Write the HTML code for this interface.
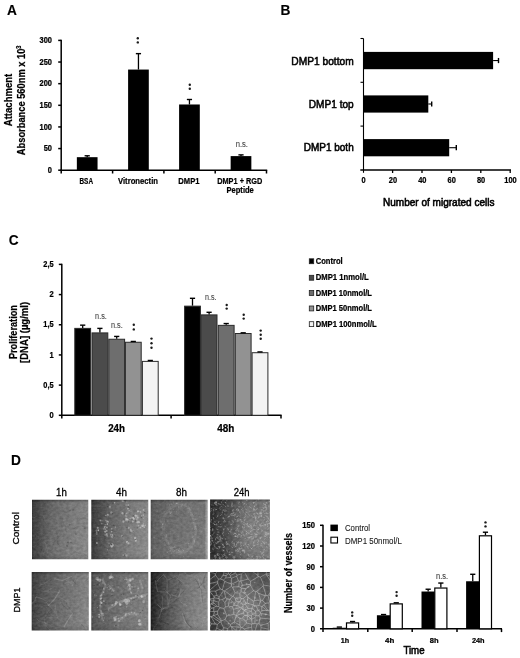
<!DOCTYPE html><html><head><meta charset="utf-8"><style>html,body{margin:0;padding:0;background:#fff;}svg{display:block;filter:blur(0.4px);}</style></head><body>
<svg width="520" height="658" viewBox="0 0 520 658" font-family='"Liberation Sans", sans-serif'>
<rect width="520" height="658" fill="#fff"/>
<text x="7.0" y="14.8" font-size="14.8" font-weight="bold" fill="#000" stroke="#000" stroke-width="0.12" textLength="9.9" lengthAdjust="spacingAndGlyphs">A</text>
<text x="280.4" y="14.8" font-size="14.8" font-weight="bold" fill="#000" stroke="#000" stroke-width="0.12" textLength="9.9" lengthAdjust="spacingAndGlyphs">B</text>
<text x="8.7" y="245.1" font-size="14.8" font-weight="bold" fill="#000" stroke="#000" stroke-width="0.12" textLength="9.9" lengthAdjust="spacingAndGlyphs">C</text>
<text x="11.0" y="465.4" font-size="14.8" font-weight="bold" fill="#000" stroke="#000" stroke-width="0.12" textLength="9.9" lengthAdjust="spacingAndGlyphs">D</text>
<line x1="61.20" y1="39.80" x2="61.20" y2="173.40" stroke="#000" stroke-width="1.5"/>
<line x1="60.45" y1="170.20" x2="267.20" y2="170.20" stroke="#000" stroke-width="1.5"/>
<line x1="58.20" y1="40.40" x2="61.20" y2="40.40" stroke="#000" stroke-width="1.5"/>
<text x="39.55" y="43.05" font-size="8.29" font-weight="bold" fill="#000" stroke="#000" stroke-width="0.22" textLength="12.45" lengthAdjust="spacingAndGlyphs">300</text>
<line x1="58.20" y1="62.03" x2="61.20" y2="62.03" stroke="#000" stroke-width="1.5"/>
<text x="39.55" y="64.68" font-size="8.29" font-weight="bold" fill="#000" stroke="#000" stroke-width="0.22" textLength="12.45" lengthAdjust="spacingAndGlyphs">250</text>
<line x1="58.20" y1="83.67" x2="61.20" y2="83.67" stroke="#000" stroke-width="1.5"/>
<text x="39.55" y="86.32" font-size="8.29" font-weight="bold" fill="#000" stroke="#000" stroke-width="0.22" textLength="12.45" lengthAdjust="spacingAndGlyphs">200</text>
<line x1="58.20" y1="105.30" x2="61.20" y2="105.30" stroke="#000" stroke-width="1.5"/>
<text x="39.55" y="107.95" font-size="8.29" font-weight="bold" fill="#000" stroke="#000" stroke-width="0.22" textLength="12.45" lengthAdjust="spacingAndGlyphs">150</text>
<line x1="58.20" y1="126.93" x2="61.20" y2="126.93" stroke="#000" stroke-width="1.5"/>
<text x="39.55" y="129.58" font-size="8.29" font-weight="bold" fill="#000" stroke="#000" stroke-width="0.22" textLength="12.45" lengthAdjust="spacingAndGlyphs">100</text>
<line x1="58.20" y1="148.57" x2="61.20" y2="148.57" stroke="#000" stroke-width="1.5"/>
<text x="43.70" y="151.22" font-size="8.29" font-weight="bold" fill="#000" stroke="#000" stroke-width="0.22" textLength="8.30" lengthAdjust="spacingAndGlyphs">50</text>
<line x1="58.20" y1="170.20" x2="61.20" y2="170.20" stroke="#000" stroke-width="1.5"/>
<text x="47.85" y="172.85" font-size="8.29" font-weight="bold" fill="#000" stroke="#000" stroke-width="0.22" textLength="4.15" lengthAdjust="spacingAndGlyphs">0</text>
<line x1="112.60" y1="170.20" x2="112.60" y2="173.50" stroke="#000" stroke-width="1.5"/>
<line x1="163.90" y1="170.20" x2="163.90" y2="173.50" stroke="#000" stroke-width="1.5"/>
<line x1="215.20" y1="170.20" x2="215.20" y2="173.50" stroke="#000" stroke-width="1.5"/>
<line x1="266.50" y1="170.20" x2="266.50" y2="173.50" stroke="#000" stroke-width="1.5"/>
<rect x="76.85" y="157.18" width="20.70" height="13.02" fill="#000"/>
<line x1="87.20" y1="155.79" x2="87.20" y2="157.18" stroke="#000" stroke-width="1.3"/>
<line x1="84.60" y1="155.79" x2="89.80" y2="155.79" stroke="#000" stroke-width="1.4"/>
<rect x="128.10" y="69.56" width="20.70" height="100.64" fill="#000"/>
<line x1="138.45" y1="53.64" x2="138.45" y2="69.56" stroke="#000" stroke-width="1.3"/>
<line x1="135.85" y1="53.64" x2="141.05" y2="53.64" stroke="#000" stroke-width="1.4"/>
<rect x="179.10" y="104.48" width="20.70" height="65.72" fill="#000"/>
<line x1="189.45" y1="99.50" x2="189.45" y2="104.48" stroke="#000" stroke-width="1.3"/>
<line x1="186.85" y1="99.50" x2="192.05" y2="99.50" stroke="#000" stroke-width="1.4"/>
<rect x="230.65" y="156.10" width="20.70" height="14.10" fill="#000"/>
<line x1="241.00" y1="154.88" x2="241.00" y2="156.10" stroke="#000" stroke-width="1.3"/>
<line x1="238.40" y1="154.88" x2="243.60" y2="154.88" stroke="#000" stroke-width="1.4"/>
<circle cx="137.80" cy="38.20" r="1.2" fill="#1a1a1a"/>
<circle cx="137.80" cy="42.40" r="1.2" fill="#1a1a1a"/>
<circle cx="189.80" cy="84.70" r="1.2" fill="#1a1a1a"/>
<circle cx="189.80" cy="88.70" r="1.2" fill="#1a1a1a"/>
<text x="235.70" y="147.20" font-size="8.40" fill="#4a4a4a" stroke="#4a4a4a" stroke-width="0.12" textLength="12.30" lengthAdjust="spacingAndGlyphs">n.s.</text>
<text x="79.50" y="184.30" font-size="9.00" font-weight="bold" fill="#000" stroke="#000" stroke-width="0.22" textLength="13.50" lengthAdjust="spacingAndGlyphs">BSA</text>
<text x="118.00" y="184.30" font-size="9.00" font-weight="bold" fill="#000" stroke="#000" stroke-width="0.22" textLength="40.00" lengthAdjust="spacingAndGlyphs">Vitronectin</text>
<text x="178.30" y="184.30" font-size="9.00" font-weight="bold" fill="#000" stroke="#000" stroke-width="0.22" textLength="21.20" lengthAdjust="spacingAndGlyphs">DMP1</text>
<text x="217.20" y="184.30" font-size="9.20" font-weight="bold" fill="#000" stroke="#000" stroke-width="0.22" textLength="45.10" lengthAdjust="spacingAndGlyphs">DMP1 + RGD</text>
<text x="226.50" y="193.30" font-size="9.20" font-weight="bold" fill="#000" stroke="#000" stroke-width="0.22" textLength="27.30" lengthAdjust="spacingAndGlyphs">Peptide</text>
<text transform="translate(12.40,100.00) rotate(-90)" x="-26.20" y="0" font-size="10.50" font-weight="bold" fill="#000" stroke="#000" stroke-width="0.22" textLength="52.40" lengthAdjust="spacingAndGlyphs">Attachment</text>
<text transform="translate(24.70,100.30) rotate(-90)" x="-54.85" y="0" font-size="10.50" font-weight="bold" fill="#000" stroke="#000" stroke-width="0.22" textLength="109.70" lengthAdjust="spacingAndGlyphs">Absorbance 560nm x 10<tspan font-size="6.5" dy="-3.5">3</tspan></text>
<line x1="363.50" y1="38.50" x2="363.50" y2="172.80" stroke="#000" stroke-width="1.1"/>
<line x1="360.30" y1="170.00" x2="511.00" y2="170.00" stroke="#000" stroke-width="1.5"/>
<line x1="360.50" y1="38.50" x2="363.50" y2="38.50" stroke="#000" stroke-width="1.1"/>
<line x1="360.50" y1="82.30" x2="363.50" y2="82.30" stroke="#000" stroke-width="1.1"/>
<line x1="360.50" y1="126.10" x2="363.50" y2="126.10" stroke="#000" stroke-width="1.1"/>
<text x="361.43" y="183.40" font-size="8.13" font-weight="bold" fill="#000" stroke="#000" stroke-width="0.22" textLength="4.15" lengthAdjust="spacingAndGlyphs">0</text>
<line x1="392.60" y1="170.00" x2="392.60" y2="173.00" stroke="#000" stroke-width="1.3"/>
<text x="388.75" y="183.40" font-size="8.13" font-weight="bold" fill="#000" stroke="#000" stroke-width="0.22" textLength="8.30" lengthAdjust="spacingAndGlyphs">20</text>
<line x1="422.00" y1="170.00" x2="422.00" y2="173.00" stroke="#000" stroke-width="1.3"/>
<text x="418.15" y="183.40" font-size="8.13" font-weight="bold" fill="#000" stroke="#000" stroke-width="0.22" textLength="8.30" lengthAdjust="spacingAndGlyphs">40</text>
<line x1="451.40" y1="170.00" x2="451.40" y2="173.00" stroke="#000" stroke-width="1.3"/>
<text x="447.55" y="183.40" font-size="8.13" font-weight="bold" fill="#000" stroke="#000" stroke-width="0.22" textLength="8.30" lengthAdjust="spacingAndGlyphs">60</text>
<line x1="480.80" y1="170.00" x2="480.80" y2="173.00" stroke="#000" stroke-width="1.3"/>
<text x="476.95" y="183.40" font-size="8.13" font-weight="bold" fill="#000" stroke="#000" stroke-width="0.22" textLength="8.30" lengthAdjust="spacingAndGlyphs">80</text>
<line x1="510.20" y1="170.00" x2="510.20" y2="173.00" stroke="#000" stroke-width="1.3"/>
<text x="504.27" y="183.40" font-size="8.13" font-weight="bold" fill="#000" stroke="#000" stroke-width="0.22" textLength="12.45" lengthAdjust="spacingAndGlyphs">100</text>
<rect x="363.50" y="51.90" width="129.60" height="17.30" fill="#000"/>
<line x1="493.10" y1="60.55" x2="498.50" y2="60.55" stroke="#000" stroke-width="1.1"/>
<line x1="498.50" y1="57.95" x2="498.50" y2="63.15" stroke="#000" stroke-width="1.4"/>
<rect x="363.50" y="95.40" width="64.80" height="17.20" fill="#000"/>
<line x1="428.30" y1="104.00" x2="431.70" y2="104.00" stroke="#000" stroke-width="1.1"/>
<line x1="431.70" y1="101.40" x2="431.70" y2="106.60" stroke="#000" stroke-width="1.4"/>
<rect x="363.50" y="139.10" width="85.70" height="17.20" fill="#000"/>
<line x1="449.20" y1="147.70" x2="456.30" y2="147.70" stroke="#000" stroke-width="1.1"/>
<line x1="456.30" y1="145.10" x2="456.30" y2="150.30" stroke="#000" stroke-width="1.4"/>
<text x="291.30" y="64.80" font-size="11.73" fill="#000" stroke="#000" stroke-width="0.58" textLength="62.40" lengthAdjust="spacingAndGlyphs">DMP1 bottom</text>
<text x="308.80" y="108.20" font-size="11.73" fill="#000" stroke="#000" stroke-width="0.58" textLength="44.90" lengthAdjust="spacingAndGlyphs">DMP1 top</text>
<text x="303.80" y="151.00" font-size="10.89" fill="#000" stroke="#000" stroke-width="0.58" textLength="49.90" lengthAdjust="spacingAndGlyphs">DMP1 both</text>
<text x="383.00" y="205.80" font-size="10.39" fill="#000" stroke="#000" stroke-width="0.58" textLength="111.50" lengthAdjust="spacingAndGlyphs">Number of migrated cells</text>
<line x1="61.80" y1="263.80" x2="61.80" y2="418.50" stroke="#000" stroke-width="1.5"/>
<line x1="61.05" y1="415.30" x2="281.60" y2="415.30" stroke="#000" stroke-width="1.5"/>
<line x1="58.80" y1="264.40" x2="61.80" y2="264.40" stroke="#000" stroke-width="1.5"/>
<text x="43.30" y="267.10" font-size="8.45" font-weight="bold" fill="#000" stroke="#000" stroke-width="0.22" textLength="10.30" lengthAdjust="spacingAndGlyphs">2,5</text>
<line x1="58.80" y1="294.58" x2="61.80" y2="294.58" stroke="#000" stroke-width="1.5"/>
<text x="49.40" y="297.28" font-size="8.45" font-weight="bold" fill="#000" stroke="#000" stroke-width="0.22" textLength="4.20" lengthAdjust="spacingAndGlyphs">2</text>
<line x1="58.80" y1="324.76" x2="61.80" y2="324.76" stroke="#000" stroke-width="1.5"/>
<text x="43.30" y="327.46" font-size="8.45" font-weight="bold" fill="#000" stroke="#000" stroke-width="0.22" textLength="10.30" lengthAdjust="spacingAndGlyphs">1,5</text>
<line x1="58.80" y1="354.94" x2="61.80" y2="354.94" stroke="#000" stroke-width="1.5"/>
<text x="49.40" y="357.64" font-size="8.45" font-weight="bold" fill="#000" stroke="#000" stroke-width="0.22" textLength="4.20" lengthAdjust="spacingAndGlyphs">1</text>
<line x1="58.80" y1="385.12" x2="61.80" y2="385.12" stroke="#000" stroke-width="1.5"/>
<text x="43.30" y="387.82" font-size="8.45" font-weight="bold" fill="#000" stroke="#000" stroke-width="0.22" textLength="10.30" lengthAdjust="spacingAndGlyphs">0,5</text>
<line x1="58.80" y1="415.30" x2="61.80" y2="415.30" stroke="#000" stroke-width="1.5"/>
<text x="49.40" y="418.00" font-size="8.45" font-weight="bold" fill="#000" stroke="#000" stroke-width="0.22" textLength="4.20" lengthAdjust="spacingAndGlyphs">0</text>
<line x1="171.10" y1="415.30" x2="171.10" y2="418.60" stroke="#000" stroke-width="1.5"/>
<line x1="281.00" y1="415.30" x2="281.00" y2="418.60" stroke="#000" stroke-width="1.5"/>
<rect x="74.80" y="328.38" width="15.80" height="86.92" fill="#000" stroke="#2a2a2a" stroke-width="1"/>
<rect x="92.00" y="332.91" width="15.80" height="82.39" fill="#4b4b4b" stroke="#2a2a2a" stroke-width="1"/>
<rect x="108.80" y="339.24" width="15.80" height="76.06" fill="#6e6e6e" stroke="#2a2a2a" stroke-width="1"/>
<rect x="125.40" y="342.26" width="15.80" height="73.04" fill="#929292" stroke="#2a2a2a" stroke-width="1"/>
<rect x="142.40" y="361.38" width="15.80" height="53.92" fill="#f3f3f3" stroke="#2a2a2a" stroke-width="1"/>
<line x1="82.70" y1="325.16" x2="82.70" y2="327.88" stroke="#000" stroke-width="1.3"/>
<line x1="80.10" y1="325.16" x2="85.30" y2="325.16" stroke="#000" stroke-width="1.4"/>
<line x1="99.90" y1="328.38" x2="99.90" y2="332.41" stroke="#000" stroke-width="1.3"/>
<line x1="97.30" y1="328.38" x2="102.50" y2="328.38" stroke="#000" stroke-width="1.4"/>
<line x1="116.70" y1="336.43" x2="116.70" y2="338.74" stroke="#000" stroke-width="1.3"/>
<line x1="114.10" y1="336.43" x2="119.30" y2="336.43" stroke="#000" stroke-width="1.4"/>
<line x1="130.70" y1="341.46" x2="135.90" y2="341.46" stroke="#000" stroke-width="1.4"/>
<line x1="147.70" y1="360.47" x2="152.90" y2="360.47" stroke="#000" stroke-width="1.4"/>
<rect x="184.60" y="306.15" width="15.80" height="109.15" fill="#000" stroke="#2a2a2a" stroke-width="1"/>
<rect x="201.20" y="314.90" width="15.80" height="100.40" fill="#4b4b4b" stroke="#2a2a2a" stroke-width="1"/>
<rect x="218.30" y="325.36" width="15.80" height="89.94" fill="#6e6e6e" stroke="#2a2a2a" stroke-width="1"/>
<rect x="235.30" y="333.51" width="15.80" height="81.79" fill="#929292" stroke="#2a2a2a" stroke-width="1"/>
<rect x="252.10" y="352.72" width="15.80" height="62.58" fill="#f3f3f3" stroke="#2a2a2a" stroke-width="1"/>
<line x1="192.50" y1="298.30" x2="192.50" y2="305.65" stroke="#000" stroke-width="1.3"/>
<line x1="189.90" y1="298.30" x2="195.10" y2="298.30" stroke="#000" stroke-width="1.4"/>
<line x1="209.10" y1="312.29" x2="209.10" y2="314.40" stroke="#000" stroke-width="1.3"/>
<line x1="206.50" y1="312.29" x2="211.70" y2="312.29" stroke="#000" stroke-width="1.4"/>
<line x1="226.20" y1="323.55" x2="226.20" y2="324.86" stroke="#000" stroke-width="1.3"/>
<line x1="223.60" y1="323.55" x2="228.80" y2="323.55" stroke="#000" stroke-width="1.4"/>
<line x1="240.60" y1="332.81" x2="245.80" y2="332.81" stroke="#000" stroke-width="1.4"/>
<line x1="257.40" y1="351.92" x2="262.60" y2="351.92" stroke="#000" stroke-width="1.4"/>
<text x="95.10" y="319.20" font-size="8.40" fill="#4a4a4a" stroke="#4a4a4a" stroke-width="0.12" textLength="11.70" lengthAdjust="spacingAndGlyphs">n.s.</text>
<text x="111.00" y="328.00" font-size="8.40" fill="#4a4a4a" stroke="#4a4a4a" stroke-width="0.12" textLength="11.80" lengthAdjust="spacingAndGlyphs">n.s.</text>
<text x="205.00" y="300.20" font-size="8.40" fill="#4a4a4a" stroke="#4a4a4a" stroke-width="0.12" textLength="11.50" lengthAdjust="spacingAndGlyphs">n.s.</text>
<circle cx="133.80" cy="324.80" r="1.2" fill="#1a1a1a"/>
<circle cx="133.80" cy="329.40" r="1.2" fill="#1a1a1a"/>
<circle cx="151.50" cy="338.60" r="1.2" fill="#1a1a1a"/>
<circle cx="151.50" cy="343.20" r="1.2" fill="#1a1a1a"/>
<circle cx="151.50" cy="347.80" r="1.2" fill="#1a1a1a"/>
<circle cx="226.70" cy="305.00" r="1.2" fill="#1a1a1a"/>
<circle cx="226.70" cy="308.60" r="1.2" fill="#1a1a1a"/>
<circle cx="243.70" cy="314.80" r="1.2" fill="#1a1a1a"/>
<circle cx="243.70" cy="318.60" r="1.2" fill="#1a1a1a"/>
<circle cx="260.70" cy="330.60" r="1.2" fill="#1a1a1a"/>
<circle cx="260.70" cy="334.70" r="1.2" fill="#1a1a1a"/>
<circle cx="260.70" cy="338.80" r="1.2" fill="#1a1a1a"/>
<text x="108.20" y="432.00" font-size="10.32" font-weight="bold" fill="#000" stroke="#000" stroke-width="0.22" textLength="16.80" lengthAdjust="spacingAndGlyphs">24h</text>
<text x="217.20" y="432.00" font-size="10.32" font-weight="bold" fill="#000" stroke="#000" stroke-width="0.22" textLength="17.10" lengthAdjust="spacingAndGlyphs">48h</text>
<text transform="translate(17.10,332.10) rotate(-90)" x="-27.00" y="0" font-size="10.50" font-weight="bold" fill="#000" stroke="#000" stroke-width="0.22" textLength="54.00" lengthAdjust="spacingAndGlyphs">Proliferation</text>
<text transform="translate(28.00,332.40) rotate(-90)" x="-30.55" y="0" font-size="10.50" font-weight="bold" fill="#000" stroke="#000" stroke-width="0.22" textLength="61.10" lengthAdjust="spacingAndGlyphs">[DNA] (µg/ml)</text>
<rect x="309.30" y="258.80" width="4.40" height="4.90" fill="#000" stroke="#222" stroke-width="0.8"/>
<text x="315.70" y="263.90" font-size="8.76" font-weight="bold" fill="#000" stroke="#000" stroke-width="0.22" textLength="27.00" lengthAdjust="spacingAndGlyphs">Control</text>
<rect x="309.30" y="275.30" width="4.40" height="4.90" fill="#4b4b4b" stroke="#222" stroke-width="0.8"/>
<text x="315.70" y="280.40" font-size="8.76" font-weight="bold" fill="#000" stroke="#000" stroke-width="0.22" textLength="53.10" lengthAdjust="spacingAndGlyphs">DMP1 1nmol/L</text>
<rect x="309.30" y="290.50" width="4.40" height="4.90" fill="#6e6e6e" stroke="#222" stroke-width="0.8"/>
<text x="315.70" y="295.60" font-size="8.76" font-weight="bold" fill="#000" stroke="#000" stroke-width="0.22" textLength="56.30" lengthAdjust="spacingAndGlyphs">DMP1 10nmol/L</text>
<rect x="309.30" y="306.00" width="4.40" height="4.90" fill="#929292" stroke="#222" stroke-width="0.8"/>
<text x="315.70" y="311.10" font-size="8.76" font-weight="bold" fill="#000" stroke="#000" stroke-width="0.22" textLength="56.30" lengthAdjust="spacingAndGlyphs">DMP1 50nmol/L</text>
<rect x="309.30" y="321.70" width="4.40" height="4.90" fill="#f3f3f3" stroke="#222" stroke-width="0.8"/>
<text x="315.70" y="326.80" font-size="8.76" font-weight="bold" fill="#000" stroke="#000" stroke-width="0.22" textLength="61.10" lengthAdjust="spacingAndGlyphs">DMP1 100nmol/L</text>
<line x1="323.00" y1="524.80" x2="323.00" y2="632.00" stroke="#000" stroke-width="1.5"/>
<line x1="320.00" y1="628.80" x2="502.00" y2="628.80" stroke="#000" stroke-width="1.5"/>
<line x1="320.00" y1="525.30" x2="323.00" y2="525.30" stroke="#000" stroke-width="1.5"/>
<line x1="320.00" y1="546.00" x2="323.00" y2="546.00" stroke="#000" stroke-width="1.5"/>
<line x1="320.00" y1="566.70" x2="323.00" y2="566.70" stroke="#000" stroke-width="1.5"/>
<line x1="320.00" y1="587.40" x2="323.00" y2="587.40" stroke="#000" stroke-width="1.5"/>
<line x1="320.00" y1="608.10" x2="323.00" y2="608.10" stroke="#000" stroke-width="1.5"/>
<text x="302.15" y="528.10" font-size="8.76" font-weight="bold" fill="#000" stroke="#000" stroke-width="0.22" textLength="12.75" lengthAdjust="spacingAndGlyphs">150</text>
<text x="302.15" y="548.80" font-size="8.76" font-weight="bold" fill="#000" stroke="#000" stroke-width="0.22" textLength="12.75" lengthAdjust="spacingAndGlyphs">120</text>
<text x="306.40" y="569.50" font-size="8.76" font-weight="bold" fill="#000" stroke="#000" stroke-width="0.22" textLength="8.50" lengthAdjust="spacingAndGlyphs">90</text>
<text x="306.40" y="590.20" font-size="8.76" font-weight="bold" fill="#000" stroke="#000" stroke-width="0.22" textLength="8.50" lengthAdjust="spacingAndGlyphs">60</text>
<text x="306.40" y="610.90" font-size="8.76" font-weight="bold" fill="#000" stroke="#000" stroke-width="0.22" textLength="8.50" lengthAdjust="spacingAndGlyphs">30</text>
<text x="310.65" y="631.60" font-size="8.76" font-weight="bold" fill="#000" stroke="#000" stroke-width="0.22" textLength="4.25" lengthAdjust="spacingAndGlyphs">0</text>
<line x1="367.80" y1="628.80" x2="367.80" y2="632.10" stroke="#000" stroke-width="1.5"/>
<line x1="412.20" y1="628.80" x2="412.20" y2="632.10" stroke="#000" stroke-width="1.5"/>
<line x1="457.00" y1="628.80" x2="457.00" y2="632.10" stroke="#000" stroke-width="1.5"/>
<line x1="501.50" y1="628.80" x2="501.50" y2="632.10" stroke="#000" stroke-width="1.5"/>
<rect x="332.70" y="627.76" width="13.30" height="1.03" fill="#000"/>
<rect x="346.50" y="622.92" width="12.10" height="5.88" fill="#fff" stroke="#000" stroke-width="1.2"/>
<line x1="336.75" y1="627.07" x2="341.95" y2="627.07" stroke="#000" stroke-width="1.4"/>
<line x1="352.55" y1="621.52" x2="352.55" y2="622.32" stroke="#000" stroke-width="1.3"/>
<line x1="349.95" y1="621.52" x2="355.15" y2="621.52" stroke="#000" stroke-width="1.4"/>
<rect x="376.90" y="615.25" width="13.30" height="13.55" fill="#000"/>
<rect x="390.20" y="603.89" width="12.10" height="24.91" fill="#fff" stroke="#000" stroke-width="1.2"/>
<line x1="383.55" y1="614.55" x2="383.55" y2="615.25" stroke="#000" stroke-width="1.3"/>
<line x1="380.95" y1="614.55" x2="386.15" y2="614.55" stroke="#000" stroke-width="1.4"/>
<line x1="393.65" y1="602.79" x2="398.85" y2="602.79" stroke="#000" stroke-width="1.4"/>
<rect x="421.50" y="591.52" width="13.30" height="37.28" fill="#000"/>
<rect x="434.80" y="588.04" width="12.10" height="40.76" fill="#fff" stroke="#000" stroke-width="1.2"/>
<line x1="428.15" y1="589.23" x2="428.15" y2="591.52" stroke="#000" stroke-width="1.3"/>
<line x1="425.55" y1="589.23" x2="430.75" y2="589.23" stroke="#000" stroke-width="1.4"/>
<line x1="440.85" y1="583.05" x2="440.85" y2="587.44" stroke="#000" stroke-width="1.3"/>
<line x1="438.25" y1="583.05" x2="443.45" y2="583.05" stroke="#000" stroke-width="1.4"/>
<rect x="466.10" y="581.26" width="13.30" height="47.54" fill="#000"/>
<rect x="479.40" y="535.81" width="12.10" height="92.99" fill="#fff" stroke="#000" stroke-width="1.2"/>
<line x1="472.75" y1="574.28" x2="472.75" y2="581.26" stroke="#000" stroke-width="1.3"/>
<line x1="470.15" y1="574.28" x2="475.35" y2="574.28" stroke="#000" stroke-width="1.4"/>
<line x1="485.45" y1="532.22" x2="485.45" y2="535.21" stroke="#000" stroke-width="1.3"/>
<line x1="482.85" y1="532.22" x2="488.05" y2="532.22" stroke="#000" stroke-width="1.4"/>
<circle cx="352.20" cy="612.40" r="1.2" fill="#1a1a1a"/>
<circle cx="352.20" cy="615.80" r="1.2" fill="#1a1a1a"/>
<circle cx="396.60" cy="592.10" r="1.2" fill="#1a1a1a"/>
<circle cx="396.60" cy="595.70" r="1.2" fill="#1a1a1a"/>
<circle cx="485.50" cy="522.40" r="1.2" fill="#1a1a1a"/>
<circle cx="485.50" cy="526.40" r="1.2" fill="#1a1a1a"/>
<text x="436.00" y="578.60" font-size="8.40" fill="#444" stroke="#444" stroke-width="0.12" textLength="12.00" lengthAdjust="spacingAndGlyphs">n.s.</text>
<text x="340.80" y="642.60" font-size="7.82" font-weight="bold" fill="#000" stroke="#000" stroke-width="0.22" textLength="8.40" lengthAdjust="spacingAndGlyphs">1h</text>
<text x="385.00" y="642.60" font-size="7.82" font-weight="bold" fill="#000" stroke="#000" stroke-width="0.22" textLength="9.20" lengthAdjust="spacingAndGlyphs">4h</text>
<text x="429.70" y="642.60" font-size="7.82" font-weight="bold" fill="#000" stroke="#000" stroke-width="0.22" textLength="8.80" lengthAdjust="spacingAndGlyphs">8h</text>
<text x="471.90" y="642.60" font-size="7.82" font-weight="bold" fill="#000" stroke="#000" stroke-width="0.22" textLength="12.70" lengthAdjust="spacingAndGlyphs">24h</text>
<text x="403.40" y="653.80" font-size="11.06" fill="#000" stroke="#000" stroke-width="0.58" textLength="21.20" lengthAdjust="spacingAndGlyphs">Time</text>
<text transform="translate(292.00,573.00) rotate(-90)" x="-39.90" y="0" font-size="10.00" font-weight="bold" fill="#000" stroke="#000" stroke-width="0.22" textLength="79.80" lengthAdjust="spacingAndGlyphs">Number of vessels</text>
<rect x="330.40" y="524.60" width="7.50" height="6.50" fill="#000"/>
<rect x="330.90" y="537.20" width="6.60" height="5.80" fill="#fff" stroke="#000" stroke-width="1.1"/>
<text x="345.00" y="531.30" font-size="9.22" fill="#1a1a1a" stroke="#1a1a1a" stroke-width="0.1" textLength="25.00" lengthAdjust="spacingAndGlyphs">Control</text>
<text x="345.00" y="544.30" font-size="9.22" fill="#1a1a1a" stroke="#1a1a1a" stroke-width="0.1" textLength="56.90" lengthAdjust="spacingAndGlyphs">DMP1 50nmol/L</text>
<text x="56.00" y="496.20" font-size="10.73" fill="#000" stroke="#000" stroke-width="0.3" textLength="10.80" lengthAdjust="spacingAndGlyphs">1h</text>
<text x="116.00" y="496.20" font-size="10.73" fill="#000" stroke="#000" stroke-width="0.3" textLength="11.00" lengthAdjust="spacingAndGlyphs">4h</text>
<text x="176.00" y="496.20" font-size="10.73" fill="#000" stroke="#000" stroke-width="0.3" textLength="11.00" lengthAdjust="spacingAndGlyphs">8h</text>
<text x="233.80" y="496.20" font-size="10.73" fill="#000" stroke="#000" stroke-width="0.3" textLength="15.80" lengthAdjust="spacingAndGlyphs">24h</text>
<text transform="translate(19.10,528.30) rotate(-90)" x="-16.30" y="0" font-size="9.60" fill="#000" stroke="#000" stroke-width="0.3" textLength="32.60" lengthAdjust="spacingAndGlyphs">Control</text>
<text transform="translate(19.60,600.00) rotate(-90)" x="-12.40" y="0" font-size="9.60" fill="#000" stroke="#000" stroke-width="0.3" textLength="24.80" lengthAdjust="spacingAndGlyphs">DMP1</text>
<defs>
<filter id="tex" x="0" y="0" width="100%" height="100%" color-interpolation-filters="sRGB"><feTurbulence type="fractalNoise" baseFrequency="0.3 0.4" numOctaves="2" seed="4" result="n"/><feColorMatrix in="n" type="matrix" values="1 0 0 0 0  1 0 0 0 0  1 0 0 0 0  0 0 0 0 1" result="g"/><feComposite in="SourceGraphic" in2="g" operator="arithmetic" k1="0" k2="1" k3="0.16" k4="-0.08"/></filter>
<filter id="bl" x="-5%" y="-5%" width="110%" height="110%"><feGaussianBlur stdDeviation="0.35"/></filter>
<filter id="bl2" x="-5%" y="-5%" width="110%" height="110%"><feGaussianBlur stdDeviation="0.6"/></filter>
<linearGradient id="g0" x1="0" y1="0" x2="1" y2="0"><stop offset="0" stop-color="#333333"/><stop offset="0.04" stop-color="#404040"/><stop offset="0.18" stop-color="#555555"/><stop offset="0.35" stop-color="#6c6c6c"/><stop offset="0.65" stop-color="#7c7c7c"/><stop offset="1" stop-color="#8a8a8a"/></linearGradient>
<clipPath id="c0"><rect x="32.0" y="499.7" width="56.3" height="59.6"/></clipPath>
<linearGradient id="g1" x1="0" y1="0" x2="1" y2="0"><stop offset="0" stop-color="#333333"/><stop offset="0.08" stop-color="#464646"/><stop offset="0.35" stop-color="#686868"/><stop offset="0.7" stop-color="#808080"/><stop offset="1" stop-color="#8e8e8e"/></linearGradient>
<clipPath id="c1"><rect x="91.3" y="499.7" width="57.0" height="59.6"/></clipPath>
<linearGradient id="g2" x1="0" y1="0" x2="1" y2="0"><stop offset="0" stop-color="#545454"/><stop offset="0.08" stop-color="#646464"/><stop offset="0.5" stop-color="#747474"/><stop offset="0.93" stop-color="#7a7a7a"/><stop offset="1" stop-color="#9a9a9a"/></linearGradient>
<clipPath id="c2"><rect x="150.7" y="499.7" width="57.0" height="59.6"/></clipPath>
<linearGradient id="g3" x1="0" y1="0" x2="1" y2="0"><stop offset="0" stop-color="#2c2c2c"/><stop offset="0.25" stop-color="#404040"/><stop offset="0.6" stop-color="#6c6c6c"/><stop offset="1" stop-color="#7c7c7c"/></linearGradient>
<clipPath id="c3"><rect x="210.1" y="499.4" width="59.8" height="60.0"/></clipPath>
<linearGradient id="g4" x1="0" y1="0" x2="1" y2="0"><stop offset="0" stop-color="#333333"/><stop offset="0.05" stop-color="#444444"/><stop offset="0.2" stop-color="#585858"/><stop offset="0.5" stop-color="#6e6e6e"/><stop offset="1" stop-color="#8a8a8a"/></linearGradient>
<clipPath id="c4"><rect x="31.7" y="571.9" width="57.1" height="58.7"/></clipPath>
<linearGradient id="g5" x1="0" y1="0" x2="1" y2="0"><stop offset="0" stop-color="#444444"/><stop offset="0.07" stop-color="#5a5a5a"/><stop offset="0.5" stop-color="#727272"/><stop offset="1" stop-color="#848484"/></linearGradient>
<clipPath id="c5"><rect x="91.3" y="571.9" width="57.0" height="58.7"/></clipPath>
<linearGradient id="g6" x1="0" y1="0" x2="1" y2="0"><stop offset="0" stop-color="#1e1e1e"/><stop offset="0.06" stop-color="#2c2c2c"/><stop offset="0.25" stop-color="#4e4e4e"/><stop offset="0.6" stop-color="#787878"/><stop offset="1" stop-color="#909090"/></linearGradient>
<clipPath id="c6"><rect x="150.7" y="571.9" width="57.0" height="58.7"/></clipPath>
<linearGradient id="g7" x1="0" y1="0" x2="1" y2="0"><stop offset="0" stop-color="#343434"/><stop offset="0.25" stop-color="#4c4c4c"/><stop offset="0.55" stop-color="#5e5e5e"/><stop offset="1" stop-color="#585858"/></linearGradient>
<clipPath id="c7"><rect x="210.1" y="571.9" width="59.8" height="58.7"/></clipPath>
<linearGradient id="vtop" x1="0" y1="0" x2="0" y2="1"><stop offset="0" stop-color="#000" stop-opacity="0.35"/><stop offset="0.05" stop-color="#000" stop-opacity="0.05"/><stop offset="0.9" stop-color="#000" stop-opacity="0"/><stop offset="1" stop-color="#000" stop-opacity="0.12"/></linearGradient>
<radialGradient id="rad" cx="0.62" cy="0.5" r="0.6"><stop offset="0" stop-color="#fff" stop-opacity="0.14"/><stop offset="1" stop-color="#fff" stop-opacity="0"/></radialGradient>
<radialGradient id="rad2" cx="0.55" cy="0.6" r="0.55"><stop offset="0" stop-color="#fff" stop-opacity="0.26"/><stop offset="1" stop-color="#fff" stop-opacity="0"/></radialGradient>
</defs>
<g clip-path="url(#c0)"><g filter="url(#tex)">
<rect x="31.0" y="498.7" width="58.3" height="61.6" fill="url(#g0)"/>
<g filter="url(#bl)"><path d="M67.1 543.9L68.7 542.0L70.8 540.6L73.2 540.2L75.2 538.6L77.1 537.0L79.6 536.4M68.5 553.4L70.5 555.0L72.8 556.0L75.0 557.1L77.1 558.4L79.6 558.6L82.1 558.0M47.7 554.3L47.1 551.9L47.3 549.4L46.5 547.0L46.0 544.6L44.7 542.4L42.5 541.2M81.1 512.2L80.4 514.6L78.9 516.6L77.9 518.9L75.9 520.5L73.9 522.0L71.7 523.1M43.5 555.8L43.8 553.3L44.9 551.1L45.6 548.7L46.0 546.2L45.5 543.8L44.2 541.6M35.7 517.7L33.2 517.3L30.8 516.5L28.4 516.1L25.9 516.1L23.5 515.4L21.1 514.7M49.8 528.4L48.1 526.5L47.5 524.1L45.8 522.2L44.7 520.0L44.3 517.5L42.9 515.5M76.3 521.5L73.8 521.5L71.6 522.6L69.8 524.4L67.4 525.1L65.4 526.6L63.1 527.5M84.3 555.8L83.3 558.1L82.1 560.3L80.4 562.2L79.6 564.5L78.1 566.6L76.2 568.1M80.4 501.9L82.2 500.2L83.8 498.2L85.5 496.4L87.8 495.5L90.0 494.2L92.4 493.9" stroke="#a0a0a0" stroke-opacity="0.2" stroke-width="0.8" fill="none"/>
<path d="M62.7 518.3L62.5 520.8L63.3 523.2L64.8 525.1L66.0 527.3L66.0 529.8L66.8 532.2M34.7 558.5L32.2 558.2L29.8 558.6L27.3 558.7L24.9 558.1L22.4 557.5L20.0 557.1M35.1 554.3L37.6 554.8L39.7 556.1L42.2 556.5L44.5 557.5L46.2 559.3L47.5 561.4M76.4 506.1L74.6 507.8L72.3 508.8L70.2 510.3L68.3 511.8L65.8 512.2L63.4 511.8M86.9 526.7L84.5 526.3L82.0 526.0L79.5 526.2L77.0 526.6L74.9 527.9L72.9 529.4M87.6 556.9L85.9 555.1L83.9 553.6L81.4 553.1L78.9 553.1L76.5 552.4L74.5 550.9M52.3 546.5L53.2 544.2L54.4 542.0L56.2 540.2L57.7 538.2L59.5 536.5L61.0 534.5M59.3 545.6L58.0 543.5L57.6 541.0L57.7 538.5L57.9 536.0L57.0 533.7L56.1 531.4M46.1 539.7L43.6 539.5L41.2 539.0L39.0 537.7L36.7 536.8L34.5 535.5L32.7 533.8M78.6 520.6L80.7 519.1L82.9 518.1L85.4 518.2L87.6 519.4L89.8 520.6L91.9 521.9" stroke="#333" stroke-opacity="0.16" stroke-width="0.8" fill="none"/>
<circle cx="41.4" cy="549.6" r="0.80" fill="#202020" fill-opacity="0.30"/>
<circle cx="84.8" cy="528.1" r="0.80" fill="#202020" fill-opacity="0.30"/>
<circle cx="70.9" cy="542.6" r="0.80" fill="#202020" fill-opacity="0.30"/>
<circle cx="73.1" cy="509.9" r="0.80" fill="#202020" fill-opacity="0.30"/>
<circle cx="75.9" cy="534.3" r="0.80" fill="#202020" fill-opacity="0.30"/>
<circle cx="69.5" cy="524.8" r="0.80" fill="#202020" fill-opacity="0.30"/>
<circle cx="67.1" cy="545.9" r="0.80" fill="#202020" fill-opacity="0.30"/>
<circle cx="67.9" cy="542.6" r="0.80" fill="#202020" fill-opacity="0.30"/>
</g>
</g>
<rect x="32.0" y="499.7" width="56.3" height="59.6" fill="url(#vtop)"/>
</g>
<g clip-path="url(#c1)"><g filter="url(#tex)">
<rect x="90.3" y="498.7" width="59.0" height="61.6" fill="url(#g1)"/>
<g filter="url(#bl)">
<circle cx="131.1" cy="518.3" r="0.99" fill="#d4d4d4" fill-opacity="0.40"/>
<circle cx="133.9" cy="518.7" r="1.18" fill="#d4d4d4" fill-opacity="0.40"/>
<circle cx="132.8" cy="521.5" r="1.01" fill="#d4d4d4" fill-opacity="0.58"/>
<circle cx="133.2" cy="518.0" r="1.13" fill="#d4d4d4" fill-opacity="0.48"/>
<circle cx="131.8" cy="518.9" r="0.70" fill="#202020" fill-opacity="0.35"/>
<circle cx="114.5" cy="502.7" r="0.76" fill="#d4d4d4" fill-opacity="0.59"/>
<circle cx="113.1" cy="503.0" r="0.70" fill="#202020" fill-opacity="0.35"/>
<circle cx="129.1" cy="510.4" r="0.63" fill="#d4d4d4" fill-opacity="0.46"/>
<circle cx="126.6" cy="513.4" r="0.90" fill="#d4d4d4" fill-opacity="0.46"/>
<circle cx="128.1" cy="512.3" r="1.15" fill="#d4d4d4" fill-opacity="0.39"/>
<circle cx="128.1" cy="511.9" r="0.70" fill="#202020" fill-opacity="0.35"/>
<circle cx="101.7" cy="523.5" r="0.86" fill="#d4d4d4" fill-opacity="0.33"/>
<circle cx="100.4" cy="520.3" r="1.07" fill="#d4d4d4" fill-opacity="0.32"/>
<circle cx="102.0" cy="520.7" r="0.74" fill="#d4d4d4" fill-opacity="0.30"/>
<circle cx="100.5" cy="520.7" r="0.62" fill="#d4d4d4" fill-opacity="0.41"/>
<circle cx="99.7" cy="523.2" r="0.70" fill="#202020" fill-opacity="0.35"/>
<circle cx="129.5" cy="519.8" r="0.72" fill="#d4d4d4" fill-opacity="0.51"/>
<circle cx="126.5" cy="518.9" r="1.10" fill="#d4d4d4" fill-opacity="0.58"/>
<circle cx="128.2" cy="520.3" r="0.70" fill="#202020" fill-opacity="0.35"/>
<circle cx="97.7" cy="527.8" r="1.03" fill="#d4d4d4" fill-opacity="0.59"/>
<circle cx="96.2" cy="530.7" r="0.76" fill="#d4d4d4" fill-opacity="0.34"/>
<circle cx="96.6" cy="528.9" r="0.64" fill="#d4d4d4" fill-opacity="0.33"/>
<circle cx="98.3" cy="529.9" r="1.02" fill="#d4d4d4" fill-opacity="0.35"/>
<circle cx="96.5" cy="528.6" r="0.70" fill="#202020" fill-opacity="0.35"/>
<circle cx="143.2" cy="515.6" r="0.77" fill="#d4d4d4" fill-opacity="0.33"/>
<circle cx="141.6" cy="515.7" r="0.81" fill="#d4d4d4" fill-opacity="0.52"/>
<circle cx="143.5" cy="518.2" r="0.62" fill="#d4d4d4" fill-opacity="0.41"/>
<circle cx="143.2" cy="515.0" r="0.72" fill="#d4d4d4" fill-opacity="0.45"/>
<circle cx="141.4" cy="517.6" r="0.70" fill="#202020" fill-opacity="0.35"/>
<circle cx="123.3" cy="521.5" r="1.16" fill="#d4d4d4" fill-opacity="0.47"/>
<circle cx="123.6" cy="521.6" r="0.79" fill="#d4d4d4" fill-opacity="0.31"/>
<circle cx="123.9" cy="519.1" r="0.70" fill="#202020" fill-opacity="0.35"/>
<circle cx="128.0" cy="508.8" r="0.87" fill="#d4d4d4" fill-opacity="0.50"/>
<circle cx="128.9" cy="507.3" r="0.70" fill="#202020" fill-opacity="0.35"/>
<circle cx="110.5" cy="572.5" r="0.66" fill="#d4d4d4" fill-opacity="0.55"/>
<circle cx="111.1" cy="572.5" r="0.70" fill="#202020" fill-opacity="0.35"/>
<circle cx="127.0" cy="541.6" r="0.70" fill="#d4d4d4" fill-opacity="0.55"/>
<circle cx="128.3" cy="543.2" r="1.09" fill="#d4d4d4" fill-opacity="0.59"/>
<circle cx="127.0" cy="542.1" r="1.12" fill="#d4d4d4" fill-opacity="0.53"/>
<circle cx="127.9" cy="542.9" r="0.70" fill="#202020" fill-opacity="0.35"/>
<circle cx="112.3" cy="534.8" r="0.91" fill="#d4d4d4" fill-opacity="0.56"/>
<circle cx="111.8" cy="536.0" r="1.17" fill="#d4d4d4" fill-opacity="0.30"/>
<circle cx="112.3" cy="537.6" r="0.67" fill="#d4d4d4" fill-opacity="0.45"/>
<circle cx="111.2" cy="537.1" r="0.64" fill="#d4d4d4" fill-opacity="0.47"/>
<circle cx="114.3" cy="535.8" r="0.70" fill="#202020" fill-opacity="0.35"/>
<circle cx="101.9" cy="563.6" r="1.08" fill="#d4d4d4" fill-opacity="0.32"/>
<circle cx="101.5" cy="562.9" r="1.17" fill="#d4d4d4" fill-opacity="0.50"/>
<circle cx="100.6" cy="561.8" r="0.67" fill="#d4d4d4" fill-opacity="0.39"/>
<circle cx="103.7" cy="564.2" r="0.70" fill="#202020" fill-opacity="0.35"/>
<circle cx="125.9" cy="516.3" r="0.84" fill="#d4d4d4" fill-opacity="0.34"/>
<circle cx="126.8" cy="516.1" r="0.74" fill="#d4d4d4" fill-opacity="0.49"/>
<circle cx="128.5" cy="518.4" r="0.70" fill="#202020" fill-opacity="0.35"/>
<circle cx="107.4" cy="549.7" r="0.79" fill="#d4d4d4" fill-opacity="0.34"/>
<circle cx="107.5" cy="552.3" r="0.70" fill="#202020" fill-opacity="0.35"/>
<circle cx="138.6" cy="525.7" r="0.80" fill="#d4d4d4" fill-opacity="0.41"/>
<circle cx="140.3" cy="527.7" r="0.88" fill="#d4d4d4" fill-opacity="0.49"/>
<circle cx="137.3" cy="527.9" r="0.70" fill="#202020" fill-opacity="0.35"/>
<circle cx="128.1" cy="508.4" r="0.67" fill="#d4d4d4" fill-opacity="0.55"/>
<circle cx="128.3" cy="505.0" r="0.94" fill="#d4d4d4" fill-opacity="0.54"/>
<circle cx="126.4" cy="505.2" r="1.06" fill="#d4d4d4" fill-opacity="0.35"/>
<circle cx="128.2" cy="506.8" r="0.70" fill="#202020" fill-opacity="0.35"/>
<circle cx="135.8" cy="540.5" r="1.07" fill="#d4d4d4" fill-opacity="0.50"/>
<circle cx="135.8" cy="540.8" r="0.86" fill="#d4d4d4" fill-opacity="0.53"/>
<circle cx="134.9" cy="538.6" r="0.99" fill="#d4d4d4" fill-opacity="0.38"/>
<circle cx="135.2" cy="537.8" r="1.16" fill="#d4d4d4" fill-opacity="0.48"/>
<circle cx="135.3" cy="539.5" r="0.70" fill="#202020" fill-opacity="0.35"/>
<circle cx="135.0" cy="516.3" r="1.18" fill="#d4d4d4" fill-opacity="0.34"/>
<circle cx="135.8" cy="516.8" r="0.99" fill="#d4d4d4" fill-opacity="0.33"/>
<circle cx="136.5" cy="516.9" r="0.70" fill="#202020" fill-opacity="0.35"/>
<circle cx="126.1" cy="519.9" r="1.20" fill="#d4d4d4" fill-opacity="0.40"/>
<circle cx="128.0" cy="519.9" r="0.96" fill="#d4d4d4" fill-opacity="0.51"/>
<circle cx="127.1" cy="519.8" r="0.70" fill="#d4d4d4" fill-opacity="0.51"/>
<circle cx="128.6" cy="521.8" r="0.70" fill="#202020" fill-opacity="0.35"/>
<circle cx="122.7" cy="513.6" r="1.12" fill="#d4d4d4" fill-opacity="0.32"/>
<circle cx="122.3" cy="513.1" r="1.10" fill="#d4d4d4" fill-opacity="0.46"/>
<circle cx="125.5" cy="515.3" r="0.80" fill="#d4d4d4" fill-opacity="0.43"/>
<circle cx="124.5" cy="514.0" r="0.70" fill="#202020" fill-opacity="0.35"/>
<circle cx="129.6" cy="518.8" r="1.04" fill="#d4d4d4" fill-opacity="0.40"/>
<circle cx="128.7" cy="518.1" r="0.62" fill="#d4d4d4" fill-opacity="0.41"/>
<circle cx="127.4" cy="519.5" r="1.09" fill="#d4d4d4" fill-opacity="0.30"/>
<circle cx="129.6" cy="519.5" r="0.70" fill="#202020" fill-opacity="0.35"/>
<circle cx="122.0" cy="535.9" r="1.08" fill="#d4d4d4" fill-opacity="0.35"/>
<circle cx="122.0" cy="536.0" r="0.62" fill="#d4d4d4" fill-opacity="0.55"/>
<circle cx="122.3" cy="536.4" r="0.70" fill="#202020" fill-opacity="0.35"/>
<circle cx="111.0" cy="534.7" r="0.99" fill="#d4d4d4" fill-opacity="0.45"/>
<circle cx="111.6" cy="535.3" r="0.70" fill="#202020" fill-opacity="0.35"/>
<circle cx="112.1" cy="543.8" r="0.85" fill="#d4d4d4" fill-opacity="0.35"/>
<circle cx="111.4" cy="546.3" r="1.05" fill="#d4d4d4" fill-opacity="0.41"/>
<circle cx="111.8" cy="546.5" r="1.15" fill="#d4d4d4" fill-opacity="0.44"/>
<circle cx="110.6" cy="545.3" r="0.71" fill="#d4d4d4" fill-opacity="0.36"/>
<circle cx="110.9" cy="543.9" r="0.70" fill="#202020" fill-opacity="0.35"/>
<circle cx="96.8" cy="532.3" r="0.81" fill="#d4d4d4" fill-opacity="0.42"/>
<circle cx="96.9" cy="534.0" r="0.75" fill="#d4d4d4" fill-opacity="0.57"/>
<circle cx="98.3" cy="533.2" r="0.70" fill="#202020" fill-opacity="0.35"/>
<circle cx="128.6" cy="527.8" r="1.15" fill="#d4d4d4" fill-opacity="0.50"/>
<circle cx="127.0" cy="527.4" r="0.70" fill="#202020" fill-opacity="0.35"/>
<circle cx="123.7" cy="499.3" r="0.69" fill="#d4d4d4" fill-opacity="0.38"/>
<circle cx="126.8" cy="502.1" r="0.74" fill="#d4d4d4" fill-opacity="0.31"/>
<circle cx="124.9" cy="500.7" r="0.70" fill="#202020" fill-opacity="0.35"/>
<circle cx="96.9" cy="543.1" r="0.98" fill="#d4d4d4" fill-opacity="0.48"/>
<circle cx="96.7" cy="544.8" r="0.70" fill="#202020" fill-opacity="0.35"/>
<circle cx="131.2" cy="493.5" r="0.70" fill="#d4d4d4" fill-opacity="0.32"/>
<circle cx="132.1" cy="494.2" r="0.93" fill="#d4d4d4" fill-opacity="0.45"/>
<circle cx="131.1" cy="494.2" r="0.70" fill="#202020" fill-opacity="0.35"/>
<circle cx="125.7" cy="497.7" r="0.78" fill="#d4d4d4" fill-opacity="0.54"/>
<circle cx="125.0" cy="498.4" r="0.70" fill="#202020" fill-opacity="0.35"/>
<circle cx="115.4" cy="527.1" r="0.81" fill="#d4d4d4" fill-opacity="0.36"/>
<circle cx="113.9" cy="525.5" r="0.70" fill="#202020" fill-opacity="0.35"/>
<circle cx="143.4" cy="523.9" r="0.82" fill="#d4d4d4" fill-opacity="0.34"/>
<circle cx="143.2" cy="525.9" r="1.19" fill="#d4d4d4" fill-opacity="0.38"/>
<circle cx="142.4" cy="525.8" r="1.18" fill="#d4d4d4" fill-opacity="0.54"/>
<circle cx="143.8" cy="525.8" r="1.06" fill="#d4d4d4" fill-opacity="0.52"/>
<circle cx="144.1" cy="526.3" r="0.70" fill="#202020" fill-opacity="0.35"/>
<circle cx="133.3" cy="531.3" r="0.99" fill="#d4d4d4" fill-opacity="0.43"/>
<circle cx="133.5" cy="531.3" r="0.70" fill="#202020" fill-opacity="0.35"/>
<circle cx="136.0" cy="517.6" r="1.08" fill="#d4d4d4" fill-opacity="0.46"/>
<circle cx="136.0" cy="516.0" r="1.19" fill="#d4d4d4" fill-opacity="0.48"/>
<circle cx="135.6" cy="515.4" r="0.85" fill="#d4d4d4" fill-opacity="0.53"/>
<circle cx="134.8" cy="517.0" r="0.70" fill="#202020" fill-opacity="0.35"/>
<circle cx="143.5" cy="509.9" r="1.00" fill="#d4d4d4" fill-opacity="0.53"/>
<circle cx="144.7" cy="512.6" r="0.70" fill="#202020" fill-opacity="0.35"/>
<circle cx="105.9" cy="520.4" r="0.81" fill="#d4d4d4" fill-opacity="0.36"/>
<circle cx="107.4" cy="523.4" r="0.81" fill="#d4d4d4" fill-opacity="0.32"/>
<circle cx="107.0" cy="520.9" r="0.62" fill="#d4d4d4" fill-opacity="0.53"/>
<circle cx="107.6" cy="521.8" r="1.05" fill="#d4d4d4" fill-opacity="0.50"/>
<circle cx="108.1" cy="522.3" r="0.70" fill="#202020" fill-opacity="0.35"/>
<circle cx="104.9" cy="528.2" r="0.71" fill="#d4d4d4" fill-opacity="0.33"/>
<circle cx="104.9" cy="527.0" r="1.03" fill="#d4d4d4" fill-opacity="0.54"/>
<circle cx="106.9" cy="527.4" r="0.90" fill="#d4d4d4" fill-opacity="0.51"/>
<circle cx="105.5" cy="527.6" r="0.70" fill="#202020" fill-opacity="0.35"/>
<circle cx="110.3" cy="545.3" r="0.74" fill="#d4d4d4" fill-opacity="0.41"/>
<circle cx="109.8" cy="545.2" r="0.70" fill="#202020" fill-opacity="0.35"/>
<circle cx="113.0" cy="545.3" r="1.15" fill="#d4d4d4" fill-opacity="0.50"/>
<circle cx="111.4" cy="544.5" r="0.70" fill="#202020" fill-opacity="0.35"/>
<circle cx="111.4" cy="512.7" r="1.17" fill="#d4d4d4" fill-opacity="0.46"/>
<circle cx="112.3" cy="513.5" r="0.70" fill="#202020" fill-opacity="0.35"/>
<circle cx="111.6" cy="531.6" r="0.83" fill="#d4d4d4" fill-opacity="0.58"/>
<circle cx="111.7" cy="529.0" r="0.70" fill="#d4d4d4" fill-opacity="0.53"/>
<circle cx="111.9" cy="529.9" r="0.70" fill="#202020" fill-opacity="0.35"/>
<circle cx="144.5" cy="525.4" r="0.84" fill="#d4d4d4" fill-opacity="0.33"/>
<circle cx="144.2" cy="527.1" r="0.90" fill="#d4d4d4" fill-opacity="0.51"/>
<circle cx="144.9" cy="525.2" r="0.98" fill="#d4d4d4" fill-opacity="0.59"/>
<circle cx="144.6" cy="525.0" r="0.70" fill="#202020" fill-opacity="0.35"/>
<circle cx="123.8" cy="501.3" r="0.89" fill="#d4d4d4" fill-opacity="0.42"/>
<circle cx="122.5" cy="501.1" r="1.02" fill="#d4d4d4" fill-opacity="0.57"/>
<circle cx="121.6" cy="498.6" r="0.70" fill="#202020" fill-opacity="0.35"/>
<circle cx="138.1" cy="511.2" r="0.92" fill="#d4d4d4" fill-opacity="0.52"/>
<circle cx="138.0" cy="511.6" r="1.03" fill="#d4d4d4" fill-opacity="0.53"/>
<circle cx="139.8" cy="511.7" r="0.74" fill="#d4d4d4" fill-opacity="0.45"/>
<circle cx="140.2" cy="512.4" r="1.16" fill="#d4d4d4" fill-opacity="0.38"/>
<circle cx="139.3" cy="512.1" r="0.70" fill="#202020" fill-opacity="0.35"/>
<circle cx="107.9" cy="522.1" r="1.11" fill="#d4d4d4" fill-opacity="0.43"/>
<circle cx="106.7" cy="522.3" r="0.80" fill="#d4d4d4" fill-opacity="0.32"/>
<circle cx="107.3" cy="524.2" r="0.75" fill="#d4d4d4" fill-opacity="0.58"/>
<circle cx="105.3" cy="524.8" r="0.80" fill="#d4d4d4" fill-opacity="0.35"/>
<circle cx="107.2" cy="522.5" r="0.70" fill="#202020" fill-opacity="0.35"/>
<circle cx="98.4" cy="530.4" r="0.76" fill="#d4d4d4" fill-opacity="0.56"/>
<circle cx="97.9" cy="531.9" r="0.70" fill="#202020" fill-opacity="0.35"/>
<circle cx="130.8" cy="529.6" r="0.90" fill="#d4d4d4" fill-opacity="0.53"/>
<circle cx="131.0" cy="531.0" r="0.98" fill="#d4d4d4" fill-opacity="0.49"/>
<circle cx="129.9" cy="532.0" r="0.70" fill="#202020" fill-opacity="0.35"/>
<circle cx="137.5" cy="517.2" r="0.71" fill="#d4d4d4" fill-opacity="0.56"/>
<circle cx="136.7" cy="519.0" r="0.91" fill="#d4d4d4" fill-opacity="0.31"/>
<circle cx="137.3" cy="515.7" r="0.94" fill="#d4d4d4" fill-opacity="0.35"/>
<circle cx="133.7" cy="518.9" r="0.61" fill="#d4d4d4" fill-opacity="0.31"/>
<circle cx="136.2" cy="517.9" r="0.70" fill="#202020" fill-opacity="0.35"/>
<circle cx="110.0" cy="506.7" r="1.11" fill="#d4d4d4" fill-opacity="0.35"/>
<circle cx="109.8" cy="506.9" r="0.78" fill="#d4d4d4" fill-opacity="0.30"/>
<circle cx="107.4" cy="506.6" r="0.70" fill="#202020" fill-opacity="0.35"/>
<circle cx="137.3" cy="522.3" r="0.99" fill="#d4d4d4" fill-opacity="0.58"/>
<circle cx="139.0" cy="522.1" r="1.16" fill="#d4d4d4" fill-opacity="0.54"/>
<circle cx="138.0" cy="520.9" r="0.89" fill="#d4d4d4" fill-opacity="0.33"/>
<circle cx="137.2" cy="520.0" r="0.94" fill="#d4d4d4" fill-opacity="0.31"/>
<circle cx="135.6" cy="521.0" r="0.70" fill="#202020" fill-opacity="0.35"/>
<circle cx="108.8" cy="559.2" r="0.76" fill="#d4d4d4" fill-opacity="0.44"/>
<circle cx="109.7" cy="560.2" r="0.70" fill="#202020" fill-opacity="0.35"/>
<circle cx="133.1" cy="517.4" r="0.79" fill="#d4d4d4" fill-opacity="0.37"/>
<circle cx="133.3" cy="516.1" r="0.70" fill="#202020" fill-opacity="0.35"/>
<circle cx="123.3" cy="555.1" r="0.81" fill="#d4d4d4" fill-opacity="0.58"/>
<circle cx="126.5" cy="555.7" r="1.13" fill="#d4d4d4" fill-opacity="0.49"/>
<circle cx="125.1" cy="553.9" r="0.80" fill="#d4d4d4" fill-opacity="0.36"/>
<circle cx="124.0" cy="555.1" r="0.70" fill="#202020" fill-opacity="0.35"/>
<circle cx="109.1" cy="542.9" r="0.78" fill="#d4d4d4" fill-opacity="0.30"/>
<circle cx="109.0" cy="542.4" r="0.70" fill="#202020" fill-opacity="0.35"/>
<circle cx="131.8" cy="493.2" r="0.82" fill="#d4d4d4" fill-opacity="0.53"/>
<circle cx="132.6" cy="492.5" r="0.61" fill="#d4d4d4" fill-opacity="0.50"/>
<circle cx="132.0" cy="493.9" r="1.16" fill="#d4d4d4" fill-opacity="0.38"/>
<circle cx="132.7" cy="493.1" r="0.70" fill="#202020" fill-opacity="0.35"/>
<circle cx="107.8" cy="514.5" r="0.97" fill="#d4d4d4" fill-opacity="0.34"/>
<circle cx="107.7" cy="515.3" r="1.10" fill="#d4d4d4" fill-opacity="0.52"/>
<circle cx="105.7" cy="515.4" r="0.68" fill="#d4d4d4" fill-opacity="0.46"/>
<circle cx="107.9" cy="515.8" r="0.70" fill="#202020" fill-opacity="0.35"/>
<circle cx="105.3" cy="529.2" r="0.92" fill="#d4d4d4" fill-opacity="0.38"/>
<circle cx="106.6" cy="531.0" r="1.10" fill="#d4d4d4" fill-opacity="0.45"/>
<circle cx="105.0" cy="531.8" r="1.02" fill="#d4d4d4" fill-opacity="0.53"/>
<circle cx="103.6" cy="529.0" r="0.67" fill="#d4d4d4" fill-opacity="0.39"/>
<circle cx="104.1" cy="532.1" r="0.70" fill="#202020" fill-opacity="0.35"/>
<circle cx="107.5" cy="535.9" r="0.65" fill="#d4d4d4" fill-opacity="0.40"/>
<circle cx="106.8" cy="533.9" r="0.98" fill="#d4d4d4" fill-opacity="0.46"/>
<circle cx="106.5" cy="535.3" r="1.16" fill="#d4d4d4" fill-opacity="0.33"/>
<circle cx="105.2" cy="535.1" r="0.94" fill="#d4d4d4" fill-opacity="0.37"/>
<circle cx="105.2" cy="535.7" r="0.70" fill="#202020" fill-opacity="0.35"/>
<circle cx="138.3" cy="517.7" r="1.01" fill="#d4d4d4" fill-opacity="0.36"/>
<circle cx="137.7" cy="519.5" r="0.93" fill="#d4d4d4" fill-opacity="0.48"/>
<circle cx="137.9" cy="520.0" r="0.70" fill="#202020" fill-opacity="0.35"/>
</g>
</g>
<rect x="91.3" y="499.7" width="57.0" height="59.6" fill="url(#vtop)"/>
</g>
<g clip-path="url(#c2)"><g filter="url(#tex)">
<rect x="149.7" y="498.7" width="59.0" height="61.6" fill="url(#g2)"/>
<g filter="url(#bl2)">
<path d="M179.4 503.4L170.9 507.6L163.9 517.1L163.2 530.3L168.4 543.9L174.2 552.0L185.0 552.2L192.7 544.8L196.3 530.9L192.8 517.5L187.6 506.0L179.2 503.4" stroke="#b8b8b8" stroke-opacity="0.16" stroke-width="2.6" fill="none"/>
</g><g filter="url(#bl)">
<circle cx="195.5" cy="527.8" r="0.48" fill="#c8c8c8" fill-opacity="0.27"/>
<circle cx="170.4" cy="513.4" r="0.72" fill="#c8c8c8" fill-opacity="0.34"/>
<circle cx="193.3" cy="522.6" r="0.45" fill="#c8c8c8" fill-opacity="0.24"/>
<circle cx="189.4" cy="547.0" r="0.49" fill="#c8c8c8" fill-opacity="0.29"/>
<circle cx="173.3" cy="502.1" r="0.69" fill="#c8c8c8" fill-opacity="0.24"/>
<circle cx="195.4" cy="519.3" r="0.69" fill="#c8c8c8" fill-opacity="0.28"/>
<circle cx="192.6" cy="528.3" r="0.55" fill="#c8c8c8" fill-opacity="0.18"/>
<circle cx="187.7" cy="508.2" r="0.49" fill="#c8c8c8" fill-opacity="0.26"/>
<circle cx="173.3" cy="509.2" r="0.49" fill="#c8c8c8" fill-opacity="0.33"/>
<circle cx="176.4" cy="503.4" r="0.71" fill="#c8c8c8" fill-opacity="0.22"/>
<circle cx="194.5" cy="514.3" r="0.70" fill="#c8c8c8" fill-opacity="0.19"/>
<circle cx="161.8" cy="527.5" r="0.46" fill="#c8c8c8" fill-opacity="0.33"/>
<circle cx="169.6" cy="546.5" r="0.48" fill="#c8c8c8" fill-opacity="0.16"/>
<circle cx="183.3" cy="550.6" r="0.45" fill="#c8c8c8" fill-opacity="0.17"/>
<circle cx="162.1" cy="533.2" r="0.54" fill="#c8c8c8" fill-opacity="0.28"/>
<circle cx="192.1" cy="547.0" r="0.73" fill="#c8c8c8" fill-opacity="0.24"/>
<circle cx="177.2" cy="549.6" r="0.48" fill="#c8c8c8" fill-opacity="0.18"/>
<circle cx="164.7" cy="527.9" r="0.48" fill="#c8c8c8" fill-opacity="0.32"/>
<circle cx="183.4" cy="556.3" r="0.55" fill="#c8c8c8" fill-opacity="0.34"/>
<circle cx="186.4" cy="507.0" r="0.41" fill="#c8c8c8" fill-opacity="0.23"/>
<circle cx="162.8" cy="524.1" r="0.73" fill="#c8c8c8" fill-opacity="0.34"/>
<circle cx="188.4" cy="512.4" r="0.54" fill="#c8c8c8" fill-opacity="0.16"/>
<circle cx="166.2" cy="539.5" r="0.59" fill="#c8c8c8" fill-opacity="0.16"/>
<circle cx="190.7" cy="545.0" r="0.65" fill="#c8c8c8" fill-opacity="0.20"/>
<circle cx="176.1" cy="549.9" r="0.63" fill="#c8c8c8" fill-opacity="0.33"/>
<circle cx="169.9" cy="506.3" r="0.73" fill="#c8c8c8" fill-opacity="0.21"/>
<circle cx="191.7" cy="543.9" r="0.59" fill="#c8c8c8" fill-opacity="0.18"/>
<circle cx="189.6" cy="507.9" r="0.61" fill="#c8c8c8" fill-opacity="0.20"/>
<circle cx="169.6" cy="509.2" r="0.41" fill="#c8c8c8" fill-opacity="0.15"/>
<circle cx="175.7" cy="547.4" r="0.55" fill="#c8c8c8" fill-opacity="0.18"/>
<circle cx="191.0" cy="510.0" r="0.54" fill="#c8c8c8" fill-opacity="0.24"/>
<circle cx="168.4" cy="549.4" r="0.63" fill="#c8c8c8" fill-opacity="0.15"/>
<circle cx="194.4" cy="529.1" r="0.55" fill="#c8c8c8" fill-opacity="0.32"/>
<circle cx="201.8" cy="531.7" r="0.60" fill="#c8c8c8" fill-opacity="0.23"/>
<circle cx="188.5" cy="543.8" r="0.54" fill="#c8c8c8" fill-opacity="0.28"/>
<circle cx="188.9" cy="543.5" r="0.48" fill="#c8c8c8" fill-opacity="0.35"/>
<circle cx="169.8" cy="542.0" r="0.45" fill="#c8c8c8" fill-opacity="0.33"/>
<circle cx="187.2" cy="551.6" r="0.59" fill="#c8c8c8" fill-opacity="0.34"/>
<circle cx="189.0" cy="545.8" r="0.43" fill="#c8c8c8" fill-opacity="0.19"/>
<circle cx="172.0" cy="504.7" r="0.59" fill="#c8c8c8" fill-opacity="0.32"/>
<circle cx="189.0" cy="546.0" r="0.80" fill="#c8c8c8" fill-opacity="0.17"/>
<circle cx="165.4" cy="524.3" r="0.70" fill="#c8c8c8" fill-opacity="0.23"/>
<circle cx="184.7" cy="507.5" r="0.53" fill="#c8c8c8" fill-opacity="0.16"/>
<circle cx="174.1" cy="555.8" r="0.61" fill="#c8c8c8" fill-opacity="0.31"/>
<circle cx="189.7" cy="509.8" r="0.67" fill="#c8c8c8" fill-opacity="0.22"/>
<circle cx="179.0" cy="552.5" r="0.77" fill="#c8c8c8" fill-opacity="0.17"/>
<circle cx="182.5" cy="549.4" r="0.60" fill="#c8c8c8" fill-opacity="0.20"/>
<circle cx="195.8" cy="513.4" r="0.41" fill="#c8c8c8" fill-opacity="0.32"/>
<circle cx="177.7" cy="503.8" r="0.44" fill="#c8c8c8" fill-opacity="0.21"/>
<circle cx="174.6" cy="546.5" r="0.47" fill="#c8c8c8" fill-opacity="0.35"/>
<circle cx="168.5" cy="512.0" r="0.41" fill="#c8c8c8" fill-opacity="0.16"/>
<circle cx="162.6" cy="526.9" r="0.40" fill="#c8c8c8" fill-opacity="0.24"/>
<circle cx="164.5" cy="521.7" r="0.40" fill="#c8c8c8" fill-opacity="0.32"/>
<circle cx="179.4" cy="548.8" r="0.80" fill="#c8c8c8" fill-opacity="0.27"/>
<circle cx="182.2" cy="504.7" r="0.69" fill="#c8c8c8" fill-opacity="0.32"/>
<circle cx="190.7" cy="512.4" r="0.74" fill="#c8c8c8" fill-opacity="0.18"/>
<circle cx="165.1" cy="511.2" r="0.72" fill="#c8c8c8" fill-opacity="0.22"/>
<circle cx="194.3" cy="542.1" r="0.79" fill="#c8c8c8" fill-opacity="0.26"/>
<circle cx="178.9" cy="507.8" r="0.69" fill="#c8c8c8" fill-opacity="0.32"/>
<circle cx="194.2" cy="540.7" r="0.61" fill="#c8c8c8" fill-opacity="0.19"/>
<circle cx="178.6" cy="550.5" r="0.68" fill="#c8c8c8" fill-opacity="0.30"/>
<circle cx="169.1" cy="511.8" r="0.51" fill="#c8c8c8" fill-opacity="0.20"/>
<circle cx="162.6" cy="524.6" r="0.68" fill="#c8c8c8" fill-opacity="0.33"/>
<circle cx="194.0" cy="541.1" r="0.60" fill="#c8c8c8" fill-opacity="0.30"/>
<circle cx="194.2" cy="540.8" r="0.61" fill="#c8c8c8" fill-opacity="0.24"/>
<circle cx="193.1" cy="536.4" r="0.59" fill="#c8c8c8" fill-opacity="0.34"/>
<circle cx="192.4" cy="537.6" r="0.77" fill="#c8c8c8" fill-opacity="0.16"/>
<circle cx="160.5" cy="534.6" r="0.40" fill="#c8c8c8" fill-opacity="0.21"/>
<circle cx="180.0" cy="554.0" r="0.48" fill="#c8c8c8" fill-opacity="0.28"/>
<circle cx="185.7" cy="503.9" r="0.47" fill="#c8c8c8" fill-opacity="0.30"/>
<circle cx="187.4" cy="511.0" r="0.44" fill="#c8c8c8" fill-opacity="0.29"/>
<circle cx="195.5" cy="524.1" r="0.44" fill="#c8c8c8" fill-opacity="0.20"/>
<circle cx="170.4" cy="531.4" r="0.41" fill="#c8c8c8" fill-opacity="0.23"/>
<circle cx="178.9" cy="507.7" r="0.43" fill="#c8c8c8" fill-opacity="0.22"/>
<circle cx="185.0" cy="548.4" r="0.71" fill="#c8c8c8" fill-opacity="0.16"/>
<circle cx="190.2" cy="509.7" r="0.70" fill="#c8c8c8" fill-opacity="0.24"/>
<circle cx="190.8" cy="543.1" r="0.72" fill="#c8c8c8" fill-opacity="0.23"/>
<circle cx="172.9" cy="547.1" r="0.68" fill="#c8c8c8" fill-opacity="0.26"/>
<circle cx="192.7" cy="537.1" r="0.45" fill="#c8c8c8" fill-opacity="0.30"/>
<circle cx="181.7" cy="505.9" r="0.50" fill="#c8c8c8" fill-opacity="0.34"/>
<circle cx="170.4" cy="549.0" r="0.46" fill="#c8c8c8" fill-opacity="0.29"/>
<circle cx="196.2" cy="519.2" r="0.51" fill="#c8c8c8" fill-opacity="0.26"/>
<circle cx="170.1" cy="550.7" r="0.76" fill="#c8c8c8" fill-opacity="0.26"/>
<circle cx="174.6" cy="550.5" r="0.69" fill="#c8c8c8" fill-opacity="0.28"/>
<circle cx="192.3" cy="514.4" r="0.57" fill="#c8c8c8" fill-opacity="0.22"/>
<circle cx="173.9" cy="547.4" r="0.64" fill="#c8c8c8" fill-opacity="0.19"/>
<circle cx="169.2" cy="511.2" r="0.54" fill="#c8c8c8" fill-opacity="0.25"/>
<circle cx="179.0" cy="554.7" r="0.57" fill="#c8c8c8" fill-opacity="0.34"/>
<circle cx="192.3" cy="532.8" r="0.43" fill="#c8c8c8" fill-opacity="0.17"/>
<circle cx="195.2" cy="526.7" r="0.53" fill="#c8c8c8" fill-opacity="0.23"/>
<circle cx="162.7" cy="538.3" r="0.50" fill="#c8c8c8" fill-opacity="0.27"/>
<circle cx="168.6" cy="542.4" r="0.53" fill="#c8c8c8" fill-opacity="0.21"/>
<circle cx="166.5" cy="535.0" r="0.77" fill="#c8c8c8" fill-opacity="0.32"/>
<circle cx="174.2" cy="546.9" r="0.51" fill="#c8c8c8" fill-opacity="0.28"/>
<circle cx="195.7" cy="528.0" r="0.55" fill="#c8c8c8" fill-opacity="0.24"/>
<circle cx="181.8" cy="501.2" r="0.51" fill="#c8c8c8" fill-opacity="0.29"/>
<circle cx="183.5" cy="550.5" r="0.63" fill="#c8c8c8" fill-opacity="0.25"/>
<circle cx="196.6" cy="529.1" r="0.67" fill="#c8c8c8" fill-opacity="0.20"/>
<circle cx="164.3" cy="542.3" r="0.50" fill="#c8c8c8" fill-opacity="0.23"/>
<circle cx="188.8" cy="508.3" r="0.63" fill="#c8c8c8" fill-opacity="0.16"/>
<circle cx="195.7" cy="526.4" r="0.56" fill="#c8c8c8" fill-opacity="0.30"/>
<circle cx="179.8" cy="551.3" r="0.77" fill="#c8c8c8" fill-opacity="0.18"/>
<circle cx="173.6" cy="503.3" r="0.43" fill="#c8c8c8" fill-opacity="0.29"/>
<circle cx="185.4" cy="505.1" r="0.45" fill="#c8c8c8" fill-opacity="0.19"/>
<circle cx="189.0" cy="504.7" r="0.53" fill="#c8c8c8" fill-opacity="0.33"/>
<circle cx="176.4" cy="503.4" r="0.58" fill="#c8c8c8" fill-opacity="0.27"/>
<circle cx="195.8" cy="534.9" r="0.58" fill="#c8c8c8" fill-opacity="0.27"/>
<circle cx="194.9" cy="545.7" r="0.76" fill="#c8c8c8" fill-opacity="0.16"/>
<circle cx="166.1" cy="536.9" r="0.72" fill="#c8c8c8" fill-opacity="0.23"/>
<circle cx="184.5" cy="505.3" r="0.76" fill="#c8c8c8" fill-opacity="0.16"/>
<circle cx="170.2" cy="507.8" r="0.40" fill="#c8c8c8" fill-opacity="0.33"/>
<circle cx="171.0" cy="512.0" r="0.65" fill="#c8c8c8" fill-opacity="0.26"/>
<circle cx="193.1" cy="522.2" r="0.45" fill="#c8c8c8" fill-opacity="0.17"/>
<circle cx="169.5" cy="512.8" r="0.77" fill="#c8c8c8" fill-opacity="0.18"/>
<circle cx="177.0" cy="503.2" r="0.66" fill="#c8c8c8" fill-opacity="0.23"/>
<circle cx="178.5" cy="506.7" r="0.61" fill="#c8c8c8" fill-opacity="0.19"/>
<circle cx="170.9" cy="512.9" r="0.71" fill="#c8c8c8" fill-opacity="0.17"/>
<circle cx="169.7" cy="505.1" r="0.80" fill="#c8c8c8" fill-opacity="0.30"/>
<circle cx="191.1" cy="507.0" r="0.60" fill="#c8c8c8" fill-opacity="0.22"/>
<circle cx="161.1" cy="521.9" r="0.73" fill="#c8c8c8" fill-opacity="0.29"/>
<circle cx="184.5" cy="513.1" r="0.60" fill="#c0c0c0" fill-opacity="0.25"/>
<circle cx="164.8" cy="500.5" r="0.65" fill="#c0c0c0" fill-opacity="0.25"/>
<circle cx="171.7" cy="557.8" r="0.61" fill="#c0c0c0" fill-opacity="0.25"/>
<circle cx="155.2" cy="548.5" r="0.50" fill="#c0c0c0" fill-opacity="0.25"/>
<circle cx="168.1" cy="546.7" r="0.50" fill="#c0c0c0" fill-opacity="0.25"/>
<circle cx="157.1" cy="511.3" r="0.59" fill="#c0c0c0" fill-opacity="0.25"/>
<circle cx="171.3" cy="553.2" r="0.61" fill="#c0c0c0" fill-opacity="0.25"/>
<circle cx="205.5" cy="542.9" r="0.50" fill="#c0c0c0" fill-opacity="0.25"/>
<circle cx="171.1" cy="504.0" r="0.63" fill="#c0c0c0" fill-opacity="0.25"/>
<circle cx="205.5" cy="559.0" r="0.40" fill="#c0c0c0" fill-opacity="0.25"/>
<circle cx="172.9" cy="530.1" r="0.60" fill="#c0c0c0" fill-opacity="0.25"/>
<circle cx="158.4" cy="516.1" r="0.52" fill="#c0c0c0" fill-opacity="0.25"/>
<circle cx="168.5" cy="543.6" r="0.66" fill="#c0c0c0" fill-opacity="0.25"/>
<circle cx="188.9" cy="521.2" r="0.45" fill="#c0c0c0" fill-opacity="0.25"/>
<circle cx="201.0" cy="545.3" r="0.75" fill="#c0c0c0" fill-opacity="0.25"/>
<circle cx="164.2" cy="511.9" r="0.55" fill="#c0c0c0" fill-opacity="0.25"/>
<circle cx="174.1" cy="551.6" r="0.71" fill="#c0c0c0" fill-opacity="0.25"/>
<circle cx="153.9" cy="537.7" r="0.69" fill="#c0c0c0" fill-opacity="0.25"/>
<circle cx="198.2" cy="525.3" r="0.46" fill="#c0c0c0" fill-opacity="0.25"/>
<circle cx="167.4" cy="552.4" r="0.67" fill="#c0c0c0" fill-opacity="0.25"/>
<circle cx="159.9" cy="504.4" r="0.61" fill="#c0c0c0" fill-opacity="0.25"/>
<circle cx="190.9" cy="551.9" r="0.47" fill="#c0c0c0" fill-opacity="0.25"/>
<circle cx="192.8" cy="518.4" r="0.75" fill="#c0c0c0" fill-opacity="0.25"/>
<circle cx="151.0" cy="549.7" r="0.63" fill="#c0c0c0" fill-opacity="0.25"/>
<circle cx="176.6" cy="511.8" r="0.77" fill="#c0c0c0" fill-opacity="0.25"/>
<circle cx="187.0" cy="515.5" r="0.42" fill="#c0c0c0" fill-opacity="0.25"/>
<circle cx="185.9" cy="543.4" r="0.48" fill="#c0c0c0" fill-opacity="0.25"/>
<circle cx="165.1" cy="545.2" r="0.73" fill="#c0c0c0" fill-opacity="0.25"/>
<circle cx="167.6" cy="521.2" r="0.68" fill="#c0c0c0" fill-opacity="0.25"/>
<circle cx="199.6" cy="516.7" r="0.65" fill="#c0c0c0" fill-opacity="0.25"/>
</g>
<rect x="205.5" y="499.7" width="2.2" height="59.6" fill="#b4b4b4" fill-opacity="0.45"/>
</g>
<rect x="150.7" y="499.7" width="57.0" height="59.6" fill="url(#vtop)"/>
</g>
<g clip-path="url(#c3)"><g filter="url(#tex)">
<rect x="209.1" y="498.4" width="61.8" height="62.0" fill="url(#g3)"/>
<rect x="210.1" y="499.4" width="59.8" height="60.0" fill="url(#rad)"/>
<g filter="url(#bl)"><path d="M267.9 533.0L268.0 534.8M256.0 558.7L256.3 560.0M232.5 503.5L231.4 505.8M222.5 544.9L224.5 546.5M243.4 522.5L244.7 522.6M264.0 510.6L263.4 512.4M236.7 542.2L238.6 543.0M213.9 512.3L213.2 513.4M218.2 529.2L217.7 530.1M250.4 534.4L252.4 534.4M210.2 532.7L209.6 534.2M231.6 547.0L233.0 548.0M240.0 502.0L238.7 502.4M257.4 527.5L258.9 527.5M244.9 527.1L243.9 527.4M259.7 551.2L261.3 552.1M213.1 534.2L212.2 535.4M257.1 514.0L258.9 514.3M254.7 517.5L256.3 518.8M250.1 507.4L251.8 508.4M257.4 508.0L256.5 509.9M212.6 540.3L212.6 541.5M218.1 514.8L217.4 515.8M244.9 551.5L244.4 553.5M217.0 557.0L214.6 557.4M224.0 534.8L223.1 535.7M218.0 553.4L217.5 555.8M235.2 555.7L234.4 556.7M224.3 555.5L226.7 556.3M248.5 555.8L249.4 556.4M265.9 531.6L267.2 533.1M218.6 541.3L217.8 543.2M232.6 523.6L233.4 524.3M240.7 519.1L241.1 520.2M255.7 533.9L257.4 534.5M235.8 549.5L236.5 550.9M241.9 550.0L244.4 550.2M215.1 501.1L216.5 502.7M263.5 523.9L265.0 524.6M229.2 531.4L231.2 532.1M261.2 514.7L261.6 517.3M223.4 499.8L222.4 501.3M235.6 514.0L234.7 516.3M257.2 520.6L258.6 521.6M266.1 533.1L265.6 535.0M264.7 558.7L266.4 560.1M252.2 527.7L251.5 528.6M238.3 506.9L240.3 507.0M268.3 528.4L267.4 530.1M223.5 517.3L222.8 519.0M213.1 528.8L212.8 530.8M217.3 553.3L217.0 555.5M254.3 515.8L255.5 516.6M255.1 513.7L253.1 514.0M247.6 523.0L247.7 525.2M239.1 551.1L237.2 551.2M260.9 509.5L262.3 510.2M264.6 503.9L266.1 505.8M221.4 506.2L222.5 507.3M241.1 532.2L242.2 534.5M252.5 547.5L251.2 548.8M255.3 545.6L253.1 546.2M253.4 558.3L253.2 559.6M225.1 557.3L227.0 558.5M230.3 524.4L232.1 524.5M260.4 545.2L262.4 545.3M258.3 517.3L259.4 517.7M244.9 512.8L245.8 515.1M246.0 530.9L247.4 532.4M256.1 525.3L255.2 525.8M220.8 537.8L223.0 538.8M228.7 552.2L230.0 552.2M254.3 525.2L253.7 526.4M247.3 553.8L249.4 554.8M269.6 543.9L268.1 545.0M261.8 540.9L263.2 542.5M239.9 548.1L239.0 550.3M212.8 542.3L213.7 542.8M243.2 524.3L244.9 525.2M264.1 535.8L266.0 536.6M268.2 506.2L269.6 506.2M225.3 502.2L225.9 503.5M217.1 540.8L217.9 542.6M211.8 543.3L210.7 545.3M262.3 556.3L264.0 558.3M269.9 523.5L268.1 523.7M236.9 508.1L238.4 509.8M269.7 501.3L271.0 503.0M224.8 528.8L223.4 530.0M261.1 511.4L261.0 514.0M224.2 546.3L223.0 548.0M245.7 516.6L243.6 518.0M257.1 542.5L258.7 543.2M238.6 519.4L237.6 520.4M235.0 530.5L236.4 530.9M211.8 537.8L209.7 538.4M269.2 544.4L269.4 546.6M252.4 536.4L250.0 537.0M264.9 549.3L263.5 549.8M261.7 529.6L262.7 531.3M212.2 508.4L210.4 509.0M211.1 552.2L210.0 552.8M234.9 550.8L236.4 551.2M253.4 538.4L251.0 539.2M227.4 528.3L229.0 529.5M236.6 516.3L237.3 517.0M214.7 532.9L213.0 533.3M226.9 505.8L228.9 506.3M268.1 520.9L266.6 521.2M254.9 540.7L253.5 541.5M214.8 521.1L215.3 522.6M265.7 534.0L267.1 535.6M228.9 516.1L227.3 517.4M255.3 517.4L255.2 519.1M265.4 513.4L264.2 513.4M234.5 544.8L233.8 546.4M259.9 523.6L259.8 526.0M238.2 520.6L236.8 521.2M268.2 526.2L267.3 527.2M221.7 526.6L220.0 527.1M216.8 503.9L216.3 505.8M226.3 541.2L226.5 543.0M233.2 541.4L231.5 542.3M227.8 532.9L228.8 533.6M248.5 544.4L249.2 545.4M261.0 542.9L261.8 544.2M239.7 548.1L238.5 548.6M256.6 528.5L257.5 529.7M252.4 528.1L251.4 528.4M263.4 510.2L265.6 511.3M253.8 508.0L253.6 510.5M269.8 557.3L270.2 558.6M217.8 542.9L216.4 542.9M268.8 520.1L270.8 520.4M231.5 519.9L232.5 520.9M237.7 536.2L237.7 537.8M222.8 503.9L224.0 505.4M210.1 528.7L210.4 530.5M246.0 542.5L245.6 544.9M249.8 536.7L249.1 538.5M230.6 554.2L228.6 554.7M229.8 516.2L228.7 516.8M254.0 509.9L256.0 510.1M223.7 510.1L222.7 510.4M255.5 518.6L256.1 521.0M266.0 546.3L267.5 547.2M224.5 559.2L223.0 560.3M218.8 556.9L219.9 559.0M264.5 504.2L266.1 505.3M219.6 526.1L220.1 527.1M252.7 508.7L254.8 509.3M254.1 517.1L252.5 517.7M232.0 510.9L233.5 511.1M250.5 559.4L249.9 560.5M221.6 514.3L219.8 516.1M218.4 503.7L220.8 504.7M236.5 509.0L236.5 510.3M211.9 504.2L211.7 505.5M267.1 521.6L265.6 522.0M217.2 509.3L216.1 509.6M240.0 551.6L240.3 552.9M247.7 543.9L248.4 545.1M239.1 525.8L237.5 526.5M212.8 548.4L213.2 550.2M216.4 528.7L217.6 530.0M254.4 537.1L252.9 537.2M219.1 521.6L218.2 522.3M232.3 515.3L234.5 515.8M235.0 532.8L236.5 534.5M242.2 526.0L243.1 528.4M245.5 508.6L246.5 510.0M214.0 555.2L216.1 556.2M216.1 548.0L218.3 548.9M234.5 543.2L234.2 545.0M224.1 555.8L223.0 556.8M221.0 539.7L221.0 541.5M241.0 543.3L240.7 544.4M259.3 515.4L259.1 517.3M238.6 521.1L237.6 521.5M236.6 546.0L234.5 547.1M253.0 529.2L252.7 530.6M210.5 535.9L209.2 537.1M264.6 506.6L266.6 507.2M218.2 503.2L218.3 504.3M242.2 547.9L241.8 549.1M228.6 543.7L229.4 545.5M240.7 519.3L238.5 520.6M239.9 548.5L240.8 549.1M225.8 544.0L228.2 544.2M254.5 506.0L253.7 507.4M220.4 546.2L219.5 548.5M232.8 513.9L231.1 514.1M216.8 502.7L214.5 503.0M254.6 502.2L253.0 502.8M255.1 505.1L254.3 507.1M254.3 533.1L255.6 533.9M246.0 499.6L246.8 501.0M225.1 505.7L225.9 507.1M257.5 538.7L258.5 540.8M239.8 556.7L240.6 558.0M248.3 532.5L249.2 534.0M214.1 544.9L215.2 545.2M213.4 522.9L214.8 525.0M227.1 510.3L226.2 511.0M237.5 528.2L236.5 530.6M254.7 542.0L253.5 543.0M223.0 517.6L224.4 519.2M264.1 504.4L263.1 505.5M238.2 508.6L238.0 510.8M266.2 508.8L265.5 510.9M258.7 559.3L256.4 559.6M249.6 526.6L251.7 527.2M218.4 515.7L216.7 517.5M241.6 544.9L240.6 546.9M268.1 525.6L266.9 526.7M235.2 533.1L234.7 534.0M224.8 513.4L224.4 514.7M223.7 531.6L223.0 533.3M210.1 534.9L210.9 537.1M247.7 513.6L249.0 514.5M261.6 546.4L262.8 547.1M218.7 546.0L219.4 547.6M259.9 537.6L260.2 538.9M229.1 554.3L230.3 554.3M229.7 515.6L228.6 517.3M227.9 557.3L226.3 557.3M242.7 531.0L243.0 533.5M234.8 542.9L232.6 543.4M219.0 538.4L219.4 540.4M265.6 503.1L267.8 503.1M224.9 502.5L226.4 502.9M266.2 512.2L266.6 513.8M246.9 532.6L246.1 534.7M266.8 501.8L266.1 503.0M224.5 525.8L225.6 526.9M219.5 554.6L218.9 555.5M257.6 521.4L256.4 523.6M256.3 531.2L257.8 532.2M265.5 515.9L267.8 516.9M221.7 543.7L223.5 545.0M223.8 554.1L224.5 555.2M225.1 509.3L224.9 511.4M248.0 557.7L246.7 559.3M253.5 555.6L251.4 556.3M233.0 556.7L232.9 557.8M245.0 519.2L244.1 521.5M256.4 500.4L255.7 502.3M264.8 531.5L265.9 533.5M223.2 543.7L222.7 545.2M253.4 542.1L253.5 543.2M220.6 537.7L220.4 540.1M254.1 558.4L254.9 559.2M218.3 555.4L219.7 556.6M265.4 538.2L264.4 539.6M210.9 545.0L209.4 545.1M269.4 537.4L271.1 538.6M232.2 513.4L229.9 514.5M224.9 547.0L223.6 547.4M266.5 507.3L266.5 508.7M249.7 537.3L247.2 537.4M247.1 523.4L248.1 524.3M253.1 529.2L255.3 529.8M260.6 553.0L263.0 553.9M269.8 512.4L268.8 513.6M257.5 512.8L257.3 514.0M253.1 559.2L251.8 561.1M223.1 521.8L225.5 521.9M235.1 556.8L234.7 558.5M259.8 555.8L260.7 557.8M211.8 509.6L210.3 511.7M257.9 556.4L255.8 556.5M225.5 514.8L226.4 515.6M226.9 549.6L227.1 551.3M241.5 547.4L240.9 549.1M222.5 511.6L222.2 513.3M256.0 535.9L255.9 537.9M238.3 541.2L238.5 542.6M212.9 559.1L214.6 560.7M242.8 510.0L243.3 512.5M249.2 558.0L248.3 559.6M263.9 557.5L263.7 559.0M257.9 557.6L257.6 558.6M218.2 526.0L219.4 527.3M213.6 505.0L212.9 505.8M210.8 536.1L211.7 536.9M216.1 501.4L217.1 501.7M215.7 542.4L216.6 544.2M221.2 501.2L221.6 503.2M245.9 523.3L246.9 525.1M269.3 533.4L268.9 534.7M238.4 518.2L237.2 519.8M233.7 558.8L235.2 559.7M249.7 510.8L249.9 511.9M230.8 515.5L232.3 515.7M247.2 500.0L247.1 501.2M262.2 522.8L261.4 523.5M224.3 510.1L222.6 510.1M223.0 549.4L224.2 551.1M227.2 551.6L228.1 552.0M215.9 555.6L213.8 557.0M237.1 543.2L236.0 545.3M263.7 543.5L264.8 544.3M217.3 536.4L217.9 538.3M222.7 532.7L222.6 534.4M258.0 499.7L259.2 500.0M210.5 526.9L210.5 527.9M238.2 503.3L239.0 504.3M263.8 551.9L262.2 552.9M211.3 540.2L212.7 540.3M241.3 553.8L240.1 554.6M251.7 515.1L252.1 516.8M243.6 534.4L244.3 536.4M266.7 509.5L266.1 510.5M246.4 545.6L248.0 547.5M211.2 535.0L209.9 535.9M246.6 504.4L245.7 505.3M258.8 556.3L259.5 557.5M243.9 549.8L244.2 552.2M247.2 547.5L248.6 548.7M225.5 538.4L225.5 539.6M259.1 528.3L258.2 530.2M245.2 506.6L244.0 507.1M220.1 557.3L219.3 558.2M268.8 533.0L267.7 534.1M262.8 506.8L263.3 508.5M227.8 528.8L228.3 530.5M220.2 535.6L220.1 538.0M235.1 557.8L233.1 558.0M267.4 534.6L265.6 535.4M214.9 501.8L214.5 503.9M247.5 525.6L249.6 526.2M229.2 520.7L229.0 522.3M221.0 523.8L220.6 524.8M219.9 557.6L220.1 559.3M260.0 512.1L260.4 513.8M223.8 519.9L225.5 521.4M260.4 524.5L261.2 527.0M232.2 502.4L231.7 504.5M211.4 538.1L213.0 538.3M214.3 524.5L216.2 524.7M224.3 553.6L223.9 554.5M244.3 544.8L243.2 545.5M264.3 552.1L263.3 552.2M219.9 536.1L218.3 537.3M237.4 530.5L239.1 531.3M223.3 528.6L223.8 530.4M231.1 552.3L233.1 552.4M251.6 530.8L249.6 532.4M256.0 503.6L256.2 505.6M217.3 532.1L219.3 532.2M234.4 536.3L236.3 536.6M258.3 540.9L258.4 541.9M267.5 520.6L268.8 521.7M233.9 512.2L232.9 514.1M218.9 521.4L218.2 522.9M215.6 502.1L214.8 503.1M213.5 508.9L213.7 511.5M251.1 558.4L251.9 559.8M263.0 521.4L263.4 522.3M216.3 509.0L215.5 510.2M249.2 514.9L250.3 515.9M247.5 526.0L249.6 526.9M265.4 523.7L265.7 525.7M254.3 523.5L254.3 525.7M257.4 534.3L255.1 534.7M267.1 523.3L268.1 525.6M267.7 516.8L268.7 519.2M250.2 525.3L251.9 526.3M259.4 512.6L260.1 514.7M256.0 512.6L257.6 513.8M259.0 517.3L257.9 518.8M232.3 505.7L232.0 507.1M235.6 535.4L235.7 536.8M262.3 536.9L260.2 537.6M266.0 541.9L266.3 543.0M253.8 524.5L253.7 525.7M220.1 541.1L218.4 541.5M215.4 557.9L215.0 560.1M266.4 524.7L264.5 525.3M211.5 519.0L211.0 521.4M217.0 502.5L215.2 503.3M258.4 544.6L256.6 544.8M261.2 512.9L261.4 514.1M238.4 515.7L236.6 517.1M227.4 500.2L226.3 500.7M252.7 544.9L254.6 545.5M241.7 535.1L240.8 537.4M233.5 508.9L232.6 510.8M218.0 505.2L217.3 505.9M228.0 543.4L226.5 544.8M238.3 535.2L236.3 536.6M239.6 542.1L241.9 542.4M253.4 502.3L255.0 502.8M214.1 545.6L215.5 547.3M267.2 513.0L267.6 514.1M214.4 513.6L212.5 514.6M265.7 558.2L265.2 560.2M262.4 509.6L263.4 510.5M252.4 556.1L252.1 557.6M214.8 503.6L216.1 504.8M261.2 525.2L263.6 525.9M253.3 502.3L253.6 504.0M220.6 506.7L220.0 507.6M257.4 557.5L257.0 558.7M250.4 547.4L252.0 549.2M263.5 541.7L264.6 543.8M240.7 520.3L242.3 522.0M245.0 503.4L243.4 504.0M236.9 548.6L238.1 550.2M242.3 501.7L242.9 502.9M219.2 508.4L220.3 509.5M215.8 537.8L215.4 540.3M260.8 538.0L260.4 539.2M261.1 554.2L261.8 555.0M219.2 546.1L219.3 547.3M268.4 501.0L270.3 501.6M215.1 508.7L216.0 509.6M224.4 550.0L222.7 550.7M210.7 521.3L211.3 522.8M245.5 511.9L247.2 512.7M216.2 536.9L217.5 538.6M232.1 529.4L230.4 530.3M222.9 556.6L221.8 557.2M263.0 503.2L264.1 503.5M263.8 554.1L263.3 555.6M210.7 541.2L211.0 543.4M266.9 557.1L268.8 557.2M267.8 536.7L266.9 537.7M234.5 533.4L233.1 534.8M238.1 534.2L240.5 534.8M223.1 558.5L223.8 559.4M239.3 511.4L240.2 513.5M225.1 510.7L224.8 511.8M263.2 517.6L264.8 517.7M216.6 503.9L215.5 504.4M245.4 537.9L244.9 539.1M235.3 513.5L233.8 515.2M254.8 517.1L256.8 517.3M213.5 517.2L213.7 519.3M249.6 506.0L249.9 507.5M250.4 523.5L249.2 524.6M212.8 528.0L212.2 530.5M248.5 555.2L249.2 556.7M216.7 523.3L216.7 525.3M238.7 510.2L237.9 511.2M255.8 517.6L256.3 518.5M242.7 508.5L241.0 510.0M253.8 538.7L252.8 539.1M265.9 506.6L265.2 507.8M232.8 520.8L233.3 522.8M264.2 507.4L263.6 509.0M234.5 518.9L235.7 519.6M261.2 515.1L260.6 517.1M216.7 534.4L218.5 535.0M221.6 554.4L222.6 555.6M261.9 531.1L260.8 531.6M264.4 518.9L263.9 520.9M242.2 549.8L242.6 551.4M261.3 557.7L259.1 558.5M232.7 556.0L233.8 557.0" stroke="#e0e0e0" stroke-opacity="0.42" stroke-width="0.8" fill="none"/></g>
</g>
<rect x="210.1" y="499.4" width="59.8" height="60.0" fill="url(#vtop)"/>
</g>
<g clip-path="url(#c4)"><g filter="url(#tex)">
<rect x="30.7" y="570.9" width="59.1" height="60.7" fill="url(#g4)"/>
<g filter="url(#bl)">
<path d="M47.7 601.4L45.5 600.6L43.5 599.6L41.4 598.6L39.3 597.6L37.0 597.2L34.8 597.8M46.3 617.7L48.6 617.7L50.9 617.6L53.2 617.5L55.5 617.3L57.7 618.0L59.4 619.5M64.2 583.8L66.3 582.8L68.3 581.8L70.6 581.4L72.8 581.9L74.6 583.3L76.8 584.2M44.1 619.0L44.3 621.3L45.5 623.3L46.2 625.5L47.4 627.4L49.1 628.9L50.7 630.6M36.5 617.9L37.8 619.9L39.7 621.2L41.9 621.8L44.1 622.3L46.2 623.4L48.2 624.4M72.2 586.1L73.0 584.0L73.7 581.8L75.0 579.8L76.0 577.8L76.1 575.5L76.7 573.3M36.8 596.0L35.6 597.9L35.1 600.2L33.7 602.0L31.9 603.4L29.9 604.6L28.3 606.2M53.7 587.1L51.8 588.4L49.7 589.2L48.0 590.7L45.8 591.4L43.5 591.3L41.2 591.0M63.0 577.2L64.4 579.0L66.4 580.2L68.0 581.8L70.1 582.8L72.0 584.1L73.3 586.0M55.4 611.8L53.6 610.4L52.0 608.7L50.6 606.9L48.7 605.7L47.6 603.7L45.9 602.0M39.3 585.9L41.1 584.5L43.4 584.1L45.4 582.9L47.2 581.4L49.3 580.5L50.9 578.9M55.2 605.1L55.4 607.4L55.6 609.7L56.6 611.8L56.7 614.1L56.9 616.4L57.8 618.5M60.0 593.3L57.9 592.3L55.7 591.7L53.4 592.0L51.1 592.1L48.8 592.2L46.6 591.7M67.8 602.4L65.9 601.0L64.1 599.7L62.1 598.5L60.0 597.5L57.9 596.6L55.6 596.9" stroke="#a8a8a8" stroke-opacity="0.28" stroke-width="0.8" fill="none"/>
<path d="M43.2 605.7L45.0 607.0L46.4 608.9L47.8 610.7L48.6 612.9L49.8 614.8L51.8 616.0M57.0 616.4L54.8 617.0L52.5 616.7L50.2 616.8L48.1 615.8L46.2 614.5L44.0 613.7M68.1 610.0L66.4 608.4L64.6 607.1L63.1 605.3L61.8 603.4L61.1 601.2L61.0 598.9M66.2 603.1L67.4 605.0L68.6 607.0L69.9 608.9L71.4 610.6L72.9 612.4L73.7 614.5M81.0 624.4L82.9 625.6L84.3 627.4L85.1 629.6L86.4 631.5L87.2 633.6L88.9 635.2M54.0 608.8L51.8 609.5L49.9 610.8L48.5 612.6L47.3 614.5L46.5 616.7L45.2 618.6M70.9 578.5L72.7 579.9L73.8 582.0L75.3 583.7L77.2 584.9L79.4 585.6L81.6 586.2M40.8 613.3L38.5 613.6L36.3 612.8L34.2 611.9L32.3 610.6L30.2 609.7L28.0 608.9M84.5 581.6L86.5 580.6L87.9 578.7L89.0 576.7L90.8 575.2L92.7 573.9L94.5 572.6M33.5 603.1L35.7 603.8L37.5 605.2L39.8 605.7L42.1 605.4L44.3 604.7L46.5 604.6" stroke="#2a2a2a" stroke-opacity="0.2" stroke-width="0.8" fill="none"/>
<path d="M48.4 605.7L55.0 598.5L59.8 590.6" stroke="#b8b8b8" stroke-opacity="0.35" stroke-width="1.1" fill="none"/>
<path d="M63.8 627.3L68.8 618.8L72.7 613.3" stroke="#b8b8b8" stroke-opacity="0.35" stroke-width="1.1" fill="none"/>
<path d="M54.3 578.8L62.1 580.5L72.1 576.2" stroke="#b8b8b8" stroke-opacity="0.35" stroke-width="1.1" fill="none"/>
</g>
</g>
<rect x="31.7" y="571.9" width="57.1" height="58.7" fill="url(#vtop)"/>
</g>
<g clip-path="url(#c5)"><g filter="url(#tex)">
<rect x="90.3" y="570.9" width="59.0" height="60.7" fill="url(#g5)"/>
<g filter="url(#bl2)">
<path d="M108.5 608.6L116.4 603.3L125.0 599.5L135.3 597.1L148.6 593.6" stroke="#d0d0d0" stroke-opacity="0.22" stroke-width="2.0" fill="none"/>
<path d="M102.7 579.3L105.5 586.3L100.7 596.5L100.3 609.4L102.9 621.4" stroke="#d0d0d0" stroke-opacity="0.22" stroke-width="2.0" fill="none"/>
<path d="M125.6 577.3L130.0 584.7L130.5 594.2" stroke="#d0d0d0" stroke-opacity="0.22" stroke-width="2.0" fill="none"/>
<path d="M117.0 619.2L122.6 617.7L129.4 613.6L139.0 614.0" stroke="#d0d0d0" stroke-opacity="0.22" stroke-width="2.0" fill="none"/>
<path d="M108.7 585.8L114.4 591.2" stroke="#d0d0d0" stroke-opacity="0.22" stroke-width="2.0" fill="none"/>
<path d="M139.8 579.8L142.6 588.8" stroke="#d0d0d0" stroke-opacity="0.22" stroke-width="2.0" fill="none"/>
</g><g filter="url(#bl)">
<circle cx="108.3" cy="609.1" r="0.65" fill="#e0e0e0" fill-opacity="0.31"/>
<circle cx="108.7" cy="610.0" r="0.71" fill="#e0e0e0" fill-opacity="0.31"/>
<circle cx="113.9" cy="606.3" r="0.52" fill="#e0e0e0" fill-opacity="0.29"/>
<circle cx="112.2" cy="605.0" r="0.88" fill="#e0e0e0" fill-opacity="0.38"/>
<circle cx="115.9" cy="604.7" r="0.58" fill="#e0e0e0" fill-opacity="0.21"/>
<circle cx="114.9" cy="605.3" r="0.72" fill="#e0e0e0" fill-opacity="0.39"/>
<circle cx="115.1" cy="603.4" r="0.55" fill="#e0e0e0" fill-opacity="0.45"/>
<circle cx="119.5" cy="603.5" r="0.77" fill="#e0e0e0" fill-opacity="0.37"/>
<circle cx="119.1" cy="602.0" r="0.65" fill="#e0e0e0" fill-opacity="0.29"/>
<circle cx="120.4" cy="604.6" r="0.78" fill="#e0e0e0" fill-opacity="0.36"/>
<circle cx="123.3" cy="601.5" r="0.70" fill="#e0e0e0" fill-opacity="0.38"/>
<circle cx="122.2" cy="602.2" r="0.56" fill="#e0e0e0" fill-opacity="0.38"/>
<circle cx="127.8" cy="599.2" r="0.78" fill="#e0e0e0" fill-opacity="0.22"/>
<circle cx="126.9" cy="600.7" r="0.51" fill="#e0e0e0" fill-opacity="0.28"/>
<circle cx="130.6" cy="598.5" r="0.81" fill="#e0e0e0" fill-opacity="0.25"/>
<circle cx="131.5" cy="598.7" r="0.65" fill="#e0e0e0" fill-opacity="0.41"/>
<circle cx="133.0" cy="596.9" r="0.65" fill="#e0e0e0" fill-opacity="0.25"/>
<circle cx="133.8" cy="598.0" r="0.85" fill="#e0e0e0" fill-opacity="0.22"/>
<circle cx="135.8" cy="595.8" r="0.77" fill="#e0e0e0" fill-opacity="0.41"/>
<circle cx="138.8" cy="597.6" r="0.88" fill="#e0e0e0" fill-opacity="0.36"/>
<circle cx="139.6" cy="595.9" r="0.73" fill="#e0e0e0" fill-opacity="0.36"/>
<circle cx="141.6" cy="595.5" r="0.66" fill="#e0e0e0" fill-opacity="0.23"/>
<circle cx="143.4" cy="596.7" r="0.86" fill="#e0e0e0" fill-opacity="0.29"/>
<circle cx="145.1" cy="596.0" r="0.84" fill="#e0e0e0" fill-opacity="0.27"/>
<circle cx="103.1" cy="578.8" r="0.82" fill="#e0e0e0" fill-opacity="0.24"/>
<circle cx="102.3" cy="580.1" r="0.79" fill="#e0e0e0" fill-opacity="0.24"/>
<circle cx="103.0" cy="581.4" r="0.59" fill="#e0e0e0" fill-opacity="0.28"/>
<circle cx="102.7" cy="582.8" r="0.83" fill="#e0e0e0" fill-opacity="0.24"/>
<circle cx="104.4" cy="583.9" r="0.69" fill="#e0e0e0" fill-opacity="0.33"/>
<circle cx="105.6" cy="584.3" r="0.60" fill="#e0e0e0" fill-opacity="0.21"/>
<circle cx="105.6" cy="584.0" r="0.61" fill="#e0e0e0" fill-opacity="0.32"/>
<circle cx="103.8" cy="588.7" r="0.85" fill="#e0e0e0" fill-opacity="0.32"/>
<circle cx="103.5" cy="592.3" r="0.80" fill="#e0e0e0" fill-opacity="0.39"/>
<circle cx="103.8" cy="592.1" r="0.66" fill="#e0e0e0" fill-opacity="0.23"/>
<circle cx="101.5" cy="595.3" r="0.89" fill="#e0e0e0" fill-opacity="0.40"/>
<circle cx="100.4" cy="595.7" r="0.80" fill="#e0e0e0" fill-opacity="0.41"/>
<circle cx="101.5" cy="598.3" r="0.80" fill="#e0e0e0" fill-opacity="0.38"/>
<circle cx="100.6" cy="598.8" r="0.89" fill="#e0e0e0" fill-opacity="0.39"/>
<circle cx="100.5" cy="601.7" r="0.61" fill="#e0e0e0" fill-opacity="0.43"/>
<circle cx="100.0" cy="604.7" r="0.74" fill="#e0e0e0" fill-opacity="0.26"/>
<circle cx="99.9" cy="605.5" r="0.56" fill="#e0e0e0" fill-opacity="0.26"/>
<circle cx="97.4" cy="607.4" r="0.51" fill="#e0e0e0" fill-opacity="0.42"/>
<circle cx="101.2" cy="611.0" r="0.79" fill="#e0e0e0" fill-opacity="0.28"/>
<circle cx="103.1" cy="613.7" r="0.86" fill="#e0e0e0" fill-opacity="0.26"/>
<circle cx="100.9" cy="615.2" r="0.51" fill="#e0e0e0" fill-opacity="0.35"/>
<circle cx="103.1" cy="615.3" r="0.82" fill="#e0e0e0" fill-opacity="0.33"/>
<circle cx="104.3" cy="617.9" r="0.65" fill="#e0e0e0" fill-opacity="0.26"/>
<circle cx="103.6" cy="620.5" r="0.55" fill="#e0e0e0" fill-opacity="0.37"/>
<circle cx="126.0" cy="577.6" r="0.54" fill="#e0e0e0" fill-opacity="0.20"/>
<circle cx="124.9" cy="579.5" r="0.79" fill="#e0e0e0" fill-opacity="0.42"/>
<circle cx="126.8" cy="582.7" r="0.80" fill="#e0e0e0" fill-opacity="0.26"/>
<circle cx="126.7" cy="579.4" r="0.68" fill="#e0e0e0" fill-opacity="0.35"/>
<circle cx="127.4" cy="586.2" r="0.52" fill="#e0e0e0" fill-opacity="0.34"/>
<circle cx="130.1" cy="580.6" r="0.55" fill="#e0e0e0" fill-opacity="0.42"/>
<circle cx="130.0" cy="584.3" r="0.66" fill="#e0e0e0" fill-opacity="0.21"/>
<circle cx="128.4" cy="589.9" r="0.72" fill="#e0e0e0" fill-opacity="0.29"/>
<circle cx="135.0" cy="586.8" r="0.59" fill="#e0e0e0" fill-opacity="0.37"/>
<circle cx="130.0" cy="586.8" r="0.51" fill="#e0e0e0" fill-opacity="0.40"/>
<circle cx="131.0" cy="592.4" r="0.64" fill="#e0e0e0" fill-opacity="0.33"/>
<circle cx="131.5" cy="593.0" r="0.63" fill="#e0e0e0" fill-opacity="0.34"/>
<circle cx="116.1" cy="616.8" r="0.84" fill="#e0e0e0" fill-opacity="0.37"/>
<circle cx="118.8" cy="621.0" r="0.88" fill="#e0e0e0" fill-opacity="0.37"/>
<circle cx="118.3" cy="618.5" r="0.65" fill="#e0e0e0" fill-opacity="0.42"/>
<circle cx="119.8" cy="620.9" r="0.79" fill="#e0e0e0" fill-opacity="0.35"/>
<circle cx="122.4" cy="619.9" r="0.69" fill="#e0e0e0" fill-opacity="0.21"/>
<circle cx="121.0" cy="619.5" r="0.64" fill="#e0e0e0" fill-opacity="0.29"/>
<circle cx="122.2" cy="617.7" r="0.79" fill="#e0e0e0" fill-opacity="0.38"/>
<circle cx="125.5" cy="614.7" r="0.78" fill="#e0e0e0" fill-opacity="0.25"/>
<circle cx="125.9" cy="615.0" r="0.82" fill="#e0e0e0" fill-opacity="0.26"/>
<circle cx="125.2" cy="615.7" r="0.64" fill="#e0e0e0" fill-opacity="0.28"/>
<circle cx="125.9" cy="613.9" r="0.85" fill="#e0e0e0" fill-opacity="0.37"/>
<circle cx="127.0" cy="613.6" r="0.61" fill="#e0e0e0" fill-opacity="0.34"/>
<circle cx="128.9" cy="613.1" r="0.59" fill="#e0e0e0" fill-opacity="0.44"/>
<circle cx="129.8" cy="614.7" r="0.58" fill="#e0e0e0" fill-opacity="0.40"/>
<circle cx="133.2" cy="614.0" r="0.58" fill="#e0e0e0" fill-opacity="0.22"/>
<circle cx="131.7" cy="612.3" r="0.69" fill="#e0e0e0" fill-opacity="0.45"/>
<circle cx="134.5" cy="612.8" r="0.80" fill="#e0e0e0" fill-opacity="0.40"/>
<circle cx="136.1" cy="614.8" r="0.89" fill="#e0e0e0" fill-opacity="0.29"/>
<circle cx="107.2" cy="587.6" r="0.75" fill="#e0e0e0" fill-opacity="0.35"/>
<circle cx="109.1" cy="589.8" r="0.62" fill="#e0e0e0" fill-opacity="0.41"/>
<circle cx="110.4" cy="588.7" r="0.81" fill="#e0e0e0" fill-opacity="0.38"/>
<circle cx="113.4" cy="590.8" r="0.73" fill="#e0e0e0" fill-opacity="0.22"/>
<circle cx="111.7" cy="590.9" r="0.61" fill="#e0e0e0" fill-opacity="0.37"/>
<circle cx="112.6" cy="589.9" r="0.64" fill="#e0e0e0" fill-opacity="0.36"/>
<circle cx="139.4" cy="582.0" r="0.62" fill="#e0e0e0" fill-opacity="0.22"/>
<circle cx="142.9" cy="580.6" r="0.51" fill="#e0e0e0" fill-opacity="0.28"/>
<circle cx="138.2" cy="588.3" r="0.85" fill="#e0e0e0" fill-opacity="0.42"/>
<circle cx="141.3" cy="584.0" r="0.57" fill="#e0e0e0" fill-opacity="0.41"/>
<circle cx="142.2" cy="587.8" r="0.72" fill="#e0e0e0" fill-opacity="0.24"/>
<circle cx="143.2" cy="588.0" r="0.78" fill="#e0e0e0" fill-opacity="0.23"/>
<circle cx="141.4" cy="616.5" r="0.43" fill="#c8c8c8" fill-opacity="0.30"/>
<circle cx="111.6" cy="574.1" r="0.60" fill="#c8c8c8" fill-opacity="0.30"/>
<circle cx="92.5" cy="616.8" r="0.90" fill="#c8c8c8" fill-opacity="0.30"/>
<circle cx="100.8" cy="579.6" r="0.80" fill="#c8c8c8" fill-opacity="0.30"/>
<circle cx="96.6" cy="595.3" r="0.62" fill="#c8c8c8" fill-opacity="0.30"/>
<circle cx="145.7" cy="618.6" r="0.48" fill="#c8c8c8" fill-opacity="0.30"/>
<circle cx="107.3" cy="620.3" r="0.48" fill="#c8c8c8" fill-opacity="0.30"/>
<circle cx="137.6" cy="591.1" r="0.70" fill="#c8c8c8" fill-opacity="0.30"/>
<circle cx="118.3" cy="625.5" r="0.49" fill="#c8c8c8" fill-opacity="0.30"/>
<circle cx="126.6" cy="606.8" r="0.87" fill="#c8c8c8" fill-opacity="0.30"/>
<circle cx="118.4" cy="587.0" r="0.82" fill="#c8c8c8" fill-opacity="0.30"/>
<circle cx="108.2" cy="584.3" r="0.62" fill="#c8c8c8" fill-opacity="0.30"/>
<circle cx="123.4" cy="600.6" r="0.89" fill="#c8c8c8" fill-opacity="0.30"/>
<circle cx="94.8" cy="595.0" r="0.88" fill="#c8c8c8" fill-opacity="0.30"/>
<circle cx="121.1" cy="629.2" r="0.48" fill="#c8c8c8" fill-opacity="0.30"/>
<circle cx="114.4" cy="626.0" r="0.70" fill="#c8c8c8" fill-opacity="0.30"/>
<circle cx="93.8" cy="592.7" r="0.58" fill="#c8c8c8" fill-opacity="0.30"/>
<circle cx="112.8" cy="585.6" r="0.58" fill="#c8c8c8" fill-opacity="0.30"/>
<circle cx="109.4" cy="588.9" r="0.45" fill="#c8c8c8" fill-opacity="0.30"/>
<circle cx="99.4" cy="584.7" r="0.77" fill="#c8c8c8" fill-opacity="0.30"/>
<circle cx="147.1" cy="629.3" r="0.71" fill="#c8c8c8" fill-opacity="0.30"/>
<circle cx="101.6" cy="594.4" r="0.76" fill="#c8c8c8" fill-opacity="0.30"/>
<circle cx="131.7" cy="603.5" r="0.52" fill="#c8c8c8" fill-opacity="0.30"/>
<circle cx="111.9" cy="594.3" r="0.77" fill="#c8c8c8" fill-opacity="0.30"/>
<circle cx="138.8" cy="590.3" r="0.54" fill="#c8c8c8" fill-opacity="0.30"/>
<circle cx="102.5" cy="598.9" r="0.60" fill="#202020" fill-opacity="0.30"/>
<circle cx="100.7" cy="600.8" r="0.60" fill="#202020" fill-opacity="0.30"/>
<circle cx="105.7" cy="603.6" r="0.60" fill="#202020" fill-opacity="0.30"/>
<circle cx="123.3" cy="593.9" r="0.60" fill="#202020" fill-opacity="0.30"/>
<circle cx="112.0" cy="595.3" r="0.60" fill="#202020" fill-opacity="0.30"/>
<circle cx="140.5" cy="612.5" r="0.60" fill="#202020" fill-opacity="0.30"/>
<circle cx="112.2" cy="603.2" r="0.60" fill="#202020" fill-opacity="0.30"/>
<circle cx="129.5" cy="591.9" r="0.60" fill="#202020" fill-opacity="0.30"/>
<circle cx="134.0" cy="599.2" r="0.60" fill="#202020" fill-opacity="0.30"/>
<circle cx="132.3" cy="600.2" r="0.60" fill="#202020" fill-opacity="0.30"/>
<circle cx="121.4" cy="594.7" r="0.60" fill="#202020" fill-opacity="0.30"/>
<circle cx="142.5" cy="610.4" r="0.60" fill="#202020" fill-opacity="0.30"/>
<circle cx="103.9" cy="623.5" r="0.60" fill="#202020" fill-opacity="0.30"/>
<circle cx="139.3" cy="596.0" r="0.60" fill="#202020" fill-opacity="0.30"/>
<circle cx="97.2" cy="584.8" r="0.60" fill="#202020" fill-opacity="0.30"/>
<circle cx="118.1" cy="598.0" r="0.60" fill="#202020" fill-opacity="0.30"/>
<circle cx="104.7" cy="630.3" r="0.60" fill="#202020" fill-opacity="0.30"/>
<circle cx="101.4" cy="604.3" r="0.60" fill="#202020" fill-opacity="0.30"/>
<circle cx="94.4" cy="585.5" r="0.60" fill="#202020" fill-opacity="0.30"/>
<circle cx="133.8" cy="588.3" r="0.60" fill="#202020" fill-opacity="0.30"/>
<circle cx="133.8" cy="620.0" r="0.60" fill="#202020" fill-opacity="0.30"/>
<circle cx="94.7" cy="599.8" r="0.60" fill="#202020" fill-opacity="0.30"/>
<circle cx="137.6" cy="595.3" r="0.60" fill="#202020" fill-opacity="0.30"/>
<circle cx="124.5" cy="572.0" r="0.60" fill="#202020" fill-opacity="0.30"/>
<circle cx="102.3" cy="588.0" r="0.60" fill="#202020" fill-opacity="0.30"/>
<circle cx="99.7" cy="604.3" r="0.60" fill="#202020" fill-opacity="0.30"/>
<circle cx="127.9" cy="604.6" r="0.60" fill="#202020" fill-opacity="0.30"/>
<circle cx="116.1" cy="625.4" r="0.60" fill="#202020" fill-opacity="0.30"/>
<circle cx="143.4" cy="607.8" r="0.60" fill="#202020" fill-opacity="0.30"/>
<circle cx="99.6" cy="577.0" r="0.60" fill="#202020" fill-opacity="0.30"/>
</g><g filter="url(#bl2)">
<circle cx="97.1" cy="578.7" r="1.71" fill="#e8e8e8" fill-opacity="0.31"/>
<circle cx="99.6" cy="580.3" r="1.51" fill="#e8e8e8" fill-opacity="0.43"/>
<circle cx="97.7" cy="579.8" r="1.09" fill="#e8e8e8" fill-opacity="0.47"/>
<circle cx="110.1" cy="577.7" r="1.41" fill="#e8e8e8" fill-opacity="0.48"/>
<circle cx="112.3" cy="577.2" r="1.22" fill="#e8e8e8" fill-opacity="0.36"/>
<circle cx="110.9" cy="576.7" r="1.41" fill="#e8e8e8" fill-opacity="0.39"/>
<circle cx="130.5" cy="580.6" r="1.12" fill="#e8e8e8" fill-opacity="0.31"/>
<circle cx="130.0" cy="580.0" r="1.65" fill="#e8e8e8" fill-opacity="0.44"/>
<circle cx="132.6" cy="579.0" r="1.29" fill="#e8e8e8" fill-opacity="0.42"/>
<circle cx="130.0" cy="588.7" r="1.31" fill="#e8e8e8" fill-opacity="0.31"/>
<circle cx="129.3" cy="585.3" r="1.29" fill="#e8e8e8" fill-opacity="0.41"/>
<circle cx="131.9" cy="586.8" r="0.97" fill="#e8e8e8" fill-opacity="0.33"/>
<circle cx="125.7" cy="600.7" r="1.89" fill="#e8e8e8" fill-opacity="0.48"/>
<circle cx="128.4" cy="600.9" r="1.71" fill="#e8e8e8" fill-opacity="0.47"/>
<circle cx="126.8" cy="603.1" r="1.81" fill="#e8e8e8" fill-opacity="0.34"/>
<circle cx="143.6" cy="601.7" r="1.35" fill="#e8e8e8" fill-opacity="0.35"/>
<circle cx="142.0" cy="597.0" r="1.16" fill="#e8e8e8" fill-opacity="0.36"/>
<circle cx="141.5" cy="596.5" r="1.14" fill="#e8e8e8" fill-opacity="0.40"/>
<circle cx="115.8" cy="603.8" r="0.89" fill="#e8e8e8" fill-opacity="0.47"/>
<circle cx="120.2" cy="604.6" r="1.32" fill="#e8e8e8" fill-opacity="0.50"/>
<circle cx="116.4" cy="602.3" r="1.37" fill="#e8e8e8" fill-opacity="0.45"/>
<circle cx="115.1" cy="619.9" r="1.34" fill="#e8e8e8" fill-opacity="0.46"/>
<circle cx="115.9" cy="618.8" r="1.09" fill="#e8e8e8" fill-opacity="0.33"/>
<circle cx="114.4" cy="617.8" r="1.21" fill="#e8e8e8" fill-opacity="0.45"/>
<circle cx="139.5" cy="624.3" r="1.44" fill="#e8e8e8" fill-opacity="0.35"/>
<circle cx="139.3" cy="620.8" r="1.44" fill="#e8e8e8" fill-opacity="0.49"/>
<circle cx="140.3" cy="624.5" r="1.45" fill="#e8e8e8" fill-opacity="0.31"/>
<circle cx="101.3" cy="603.0" r="1.11" fill="#e8e8e8" fill-opacity="0.43"/>
<circle cx="103.9" cy="601.1" r="0.95" fill="#e8e8e8" fill-opacity="0.42"/>
<circle cx="101.7" cy="602.8" r="0.96" fill="#e8e8e8" fill-opacity="0.36"/>
<circle cx="99.3" cy="614.6" r="0.97" fill="#e8e8e8" fill-opacity="0.48"/>
<circle cx="99.2" cy="617.1" r="1.04" fill="#e8e8e8" fill-opacity="0.41"/>
<circle cx="101.9" cy="613.7" r="1.12" fill="#e8e8e8" fill-opacity="0.35"/>
</g>
</g>
<rect x="91.3" y="571.9" width="57.0" height="58.7" fill="url(#vtop)"/>
</g>
<g clip-path="url(#c6)"><g filter="url(#tex)">
<rect x="149.7" y="570.9" width="59.0" height="60.7" fill="url(#g6)"/>
<g filter="url(#bl)">
<path d="M156.4 581.9L163.4 574.6L167.0 579.0L167.1 592.0L157.6 591.8L155.2 579.9" stroke="#c8c8c8" stroke-opacity="0.22" stroke-width="1.0" fill="none"/>
<path d="M157.8 581.1L162.7 576.2L166.9 578.7L165.7 589.8L158.1 593.5L157.8 582.4" stroke="#202020" stroke-opacity="0.18" stroke-width="0.8" fill="none"/>
<path d="M165.4 590.1L170.7 596.3L168.2 606.6L161.4 609.5" stroke="#c8c8c8" stroke-opacity="0.22" stroke-width="1.0" fill="none"/>
<path d="M165.6 591.0L171.8 594.5L168.4 606.0L162.8 610.1" stroke="#202020" stroke-opacity="0.18" stroke-width="0.8" fill="none"/>
<path d="M167.9 580.1L175.1 576.8L183.4 582.7" stroke="#c8c8c8" stroke-opacity="0.22" stroke-width="1.0" fill="none"/>
<path d="M169.9 579.5L176.5 577.1L181.2 584.5" stroke="#202020" stroke-opacity="0.18" stroke-width="0.8" fill="none"/>
<path d="M171.4 594.6L178.7 597.3L181.2 588.8" stroke="#c8c8c8" stroke-opacity="0.22" stroke-width="1.0" fill="none"/>
<path d="M170.6 596.2L179.9 596.0L185.0 589.4" stroke="#202020" stroke-opacity="0.18" stroke-width="0.8" fill="none"/>
<path d="M157.3 604.3L162.1 608.9L158.7 618.4" stroke="#c8c8c8" stroke-opacity="0.22" stroke-width="1.0" fill="none"/>
<path d="M155.9 606.2L162.0 609.2L161.8 618.7" stroke="#202020" stroke-opacity="0.18" stroke-width="0.8" fill="none"/>
<path d="M197.6 576.3L200.8 588.3L201.2 601.7" stroke="#c8c8c8" stroke-opacity="0.22" stroke-width="1.0" fill="none"/>
<path d="M195.7 579.1L201.3 590.1L202.5 602.2" stroke="#202020" stroke-opacity="0.18" stroke-width="0.8" fill="none"/>
<path d="M182.3 613.2L184.9 621.8L190.0 628.1" stroke="#c8c8c8" stroke-opacity="0.22" stroke-width="1.0" fill="none"/>
<path d="M183.3 613.6L187.3 623.7L192.4 628.0" stroke="#202020" stroke-opacity="0.18" stroke-width="0.8" fill="none"/>
<path d="M181.4 591.7L179.8 593.6L179.1 596.0L177.3 597.8L175.0 598.8L172.5 599.0L170.2 600.0M187.0 575.5L185.5 573.5L184.2 571.3L182.3 569.7L181.3 567.4L181.3 564.9L181.1 562.5M203.1 617.8L203.4 620.3L202.7 622.7L202.6 625.2L202.1 627.6L202.0 630.1L203.1 632.4M176.9 579.9L178.3 577.8L179.2 575.5L179.8 573.0L179.4 570.6L178.6 568.2L178.0 565.8M198.0 628.9L196.1 627.2L195.0 625.0L194.0 622.7L193.7 620.2L193.2 617.8L193.5 615.3M161.8 595.1L162.4 597.5L162.8 600.0L162.1 602.4L162.5 604.9L162.7 607.3L163.6 609.7M197.5 615.5L199.9 616.1L202.2 617.1L204.6 617.6L206.9 618.5L209.3 619.4L211.8 619.7M156.9 624.4L155.1 626.1L153.8 628.3L153.4 630.7L154.1 633.1L154.2 635.6L154.3 638.1M167.9 591.1L167.5 593.5L166.9 596.0L167.4 598.4L168.1 600.8L167.9 603.3L167.1 605.7M179.9 595.3L179.7 597.8L179.9 600.3L181.1 602.5L183.1 604.0L185.5 604.6L187.3 606.3" stroke="#c0c0c0" stroke-opacity="0.2" stroke-width="0.8" fill="none"/>
<path d="M205.3 574.5L204.6 576.9L204.4 579.4L203.8 581.8L203.9 584.3L204.2 586.8L205.2 589.1M180.0 580.7L179.2 583.0L178.8 585.5L178.5 588.0L177.6 590.3L176.8 592.7L175.2 594.6M160.3 613.6L162.3 612.2L164.6 611.1L166.6 609.6L168.9 608.6L171.3 607.8L173.6 606.9M184.9 574.6L187.3 573.9L189.8 574.3L192.2 573.5L194.3 572.2L196.7 571.5L199.2 571.7M174.4 601.7L176.2 599.9L177.1 597.6L177.5 595.1L178.4 592.8L178.9 590.3L179.6 587.9M154.9 620.4L157.4 620.8L159.8 620.3L162.2 621.0L164.2 622.5L166.5 623.5L168.9 624.2M159.8 593.5L159.0 591.1L158.6 588.7L159.0 586.2L158.2 583.8L156.7 581.8L155.9 579.5M197.3 588.7L199.4 587.4L200.6 585.2L202.3 583.3L203.3 581.0L203.9 578.6L205.3 576.5M151.5 620.7L149.8 622.5L148.5 624.6L147.0 626.6L146.1 628.9L145.0 631.2L144.0 633.5M185.7 572.0L184.7 569.7L184.6 567.2L184.4 564.7L184.6 562.2L184.6 559.7L183.7 557.3" stroke="#222" stroke-opacity="0.22" stroke-width="0.8" fill="none"/>
</g>
</g>
<rect x="150.7" y="571.9" width="57.0" height="58.7" fill="url(#vtop)"/>
</g>
<g clip-path="url(#c7)"><g filter="url(#tex)">
<rect x="209.1" y="570.9" width="61.8" height="60.7" fill="url(#g7)"/>
<rect x="210.1" y="571.9" width="59.8" height="58.7" fill="url(#rad2)"/>
<g filter="url(#bl)"><path d="M268.5 630.7L286.7 620.5M208.0 581.8L208.8 580.2M206.5 571.5L208.8 580.2M206.5 571.5L213.4 573.0M260.3 613.3L259.0 615.8M260.3 613.3L270.5 615.3M259.0 615.8L260.1 618.0M260.1 618.0L271.5 619.2M270.5 615.3L272.5 618.5M272.5 618.5L271.5 619.2M261.0 627.7L268.3 629.1M261.0 627.7L260.9 625.3M260.9 625.3L268.2 623.3M268.3 629.1L268.2 623.3M264.8 667.1L259.5 646.3M259.5 646.3L261.0 627.7M268.5 630.7L268.3 629.1M259.5 646.3L253.7 634.7M253.7 634.7L257.3 623.8M257.3 623.8L258.9 623.7M258.9 623.7L260.9 625.3M258.9 623.7L260.1 618.0M271.5 619.2L268.2 623.3M286.7 620.5L272.5 618.5M215.7 591.1L209.5 591.2M215.7 591.1L217.0 595.4M209.5 591.2L213.8 596.2M217.0 595.4L213.8 596.2M208.8 580.2L215.6 575.3M213.4 573.0L215.3 574.0M215.3 574.0L215.6 575.3M266.7 571.8L266.1 573.5M272.0 574.2L266.1 573.5M258.0 575.5L257.9 565.1M258.0 575.5L252.4 571.4M252.4 571.4L254.6 548.1M257.9 565.1L254.6 548.1M260.4 577.1L265.8 574.0M260.4 577.1L258.4 576.6M258.4 576.6L258.0 575.5M266.7 571.8L257.9 565.1M266.1 573.5L265.8 574.0M243.8 567.4L244.5 571.2M244.5 571.2L252.4 571.4M258.4 576.6L250.7 581.2M244.5 571.2L244.4 571.7M250.7 581.2L248.1 579.1M244.4 571.7L248.1 579.1M266.1 574.4L287.7 584.5M266.1 574.4L274.3 586.5M274.3 586.5L287.7 584.5M265.8 574.0L266.1 574.4M287.7 584.5L299.1 583.8M269.7 602.1L281.0 602.3M269.7 602.1L268.9 602.9M281.0 602.3L269.6 610.1M268.9 602.9L269.6 610.1M270.5 615.3L269.3 611.1M281.0 602.3L283.9 601.8M269.3 611.1L269.6 610.1M260.3 613.3L260.4 612.5M259.0 615.8L256.1 615.7M260.4 612.5L258.4 610.8M256.0 615.7L256.1 615.7M256.0 615.7L255.5 611.3M255.5 611.3L258.4 610.8M255.1 617.4L251.6 619.2M255.1 617.4L254.9 623.4M251.6 619.2L252.0 623.8M254.9 623.4L252.0 623.8M257.3 623.8L254.9 623.4M256.1 615.7L255.1 617.4M221.6 630.3L217.0 652.5M221.6 630.3L223.1 629.8M223.1 629.8L224.7 631.8M217.0 652.5L224.7 631.8M227.4 630.7L227.9 628.6M227.4 630.7L224.7 631.8M223.5 627.7L227.9 628.6M223.5 627.7L223.1 629.8M208.1 617.3L208.9 616.5M208.9 616.5L209.3 611.4M190.9 598.7L209.3 611.4M243.8 567.4L236.4 569.2M215.3 574.0L221.3 566.4M224.1 552.5L222.6 562.8M222.6 562.8L221.3 566.4M217.5 581.8L217.7 583.3M217.5 581.8L209.0 583.7M217.7 583.3L208.7 591.0M209.0 583.7L208.3 590.9M208.3 590.9L208.7 591.0M208.0 581.8L209.0 583.7M215.6 575.3L218.4 579.1M218.4 579.1L217.5 581.8M215.7 591.1L220.2 588.9M209.5 591.2L208.7 591.0M220.2 588.9L217.7 583.3M256.0 615.7L252.3 614.3M252.3 614.3L251.4 610.9M255.5 611.3L251.9 608.3M251.4 610.9L251.9 608.3M247.9 615.9L251.5 615.1M247.9 615.9L250.7 618.7M251.5 615.1L251.3 618.9M250.7 618.7L251.3 618.9M252.3 614.3L251.5 615.1M251.6 619.2L251.3 618.9M231.2 566.2L234.2 570.2M231.2 566.2L224.1 552.5M236.4 569.2L234.3 570.3M234.3 570.3L234.2 570.2M268.8 594.9L273.5 586.7M268.8 594.9L268.0 595.6M268.0 595.6L266.1 595.5M266.1 595.5L263.1 585.9M273.5 586.7L263.7 585.1M263.7 585.1L263.1 585.9M274.3 586.5L273.5 586.7M283.9 601.8L268.8 594.9M269.7 602.1L268.0 595.6M268.9 602.9L265.0 603.4M265.0 603.4L262.6 600.4M265.3 595.7L262.6 600.4M265.3 595.7L266.1 595.5M256.6 591.6L258.7 593.4M256.6 591.6L263.1 585.9M258.7 593.4L265.3 595.7M260.4 577.1L263.7 585.1M258.9 605.5L260.7 600.3M258.9 605.5L255.9 605.8M255.9 605.8L253.3 605.1M260.5 600.2L260.7 600.3M260.5 600.2L254.4 600.5M254.4 600.5L253.9 601.3M253.9 601.3L253.2 604.9M253.3 605.1L253.2 604.9M260.4 612.5L261.7 610.6M258.4 610.8L255.9 605.8M261.7 610.6L261.7 606.5M261.7 606.5L258.9 605.5M251.9 608.3L251.9 608.3M251.9 608.3L253.3 605.1M258.7 593.4L260.5 600.2M262.6 600.4L260.7 600.3M255.5 591.7L254.4 600.5M255.5 591.7L256.6 591.6M255.5 591.7L253.6 590.8M247.0 595.5L247.8 597.4M247.0 595.5L247.1 595.4M247.1 595.4L253.6 590.8M247.8 597.4L253.9 601.3M247.2 603.1L247.8 597.4M247.2 603.1L253.2 604.9M253.7 634.7L252.6 633.3M252.0 623.8L251.7 624.1M251.7 624.1L251.5 627.2M252.6 633.3L251.5 627.2M234.6 641.2L227.4 630.7M234.6 641.2L235.2 642.5M216.1 655.3L217.0 652.5M252.6 633.3L245.5 630.3M251.5 627.2L244.2 628.9M245.5 630.3L244.2 628.9M208.1 617.3L208.9 621.3M201.8 628.2L208.9 621.3M213.8 611.5L213.7 607.6M213.8 611.5L209.3 611.4M209.3 611.4L211.1 608.5M211.1 608.5L213.7 607.6M231.2 566.2L229.8 570.6M234.2 570.2L232.2 571.6M229.8 570.6L232.2 571.6M222.6 562.8L228.2 571.9M229.8 570.6L228.2 571.9M243.6 612.9L244.3 615.5M243.6 612.9L244.0 610.4M244.0 610.4L247.7 612.6M247.7 612.6L247.6 615.9M244.3 615.5L247.6 615.9M247.6 615.9L247.6 615.9M235.7 615.1L241.7 608.0M235.7 615.1L236.2 615.7M241.7 608.0L241.7 608.0M236.2 615.7L243.6 612.9M244.0 610.3L241.7 608.0M244.0 610.3L244.0 610.4M251.4 610.9L247.7 612.6M251.9 608.3L248.1 608.6M244.0 610.3L248.1 608.6M247.9 615.9L247.6 615.9M250.7 618.7L247.3 619.3M247.3 619.3L247.6 615.9M244.4 571.7L241.3 573.9M248.1 579.1L240.8 581.0M241.3 573.9L240.8 581.0M218.4 579.1L220.3 579.0M222.3 589.8L224.7 581.4M222.3 589.8L220.2 588.9M220.3 579.0L223.3 580.0M224.7 581.4L223.3 580.0M263.9 605.0L262.0 606.4M263.9 605.0L268.1 610.6M262.0 606.4L266.9 610.5M268.1 610.6L266.9 610.5M265.0 603.4L263.9 605.0M261.7 606.5L262.0 606.4M269.3 611.1L268.1 610.6M261.7 610.6L266.9 610.5M251.7 624.1L246.6 623.0M244.2 628.9L242.1 627.5M246.6 623.0L242.1 627.5M247.3 619.3L246.2 621.5M246.6 623.0L246.2 621.5M244.3 615.5L242.3 618.2M246.2 621.5L242.3 618.2M201.8 628.2L208.7 628.8M208.9 621.3L211.4 623.8M211.4 623.8L208.7 628.8M216.1 655.3L214.1 633.7M221.6 630.3L216.7 628.3M216.7 628.3L214.1 633.7M214.1 633.7L208.7 628.8M211.0 616.7L211.5 616.6M211.0 616.7L215.5 624.1M211.5 616.6L220.0 622.2M220.0 622.2L217.4 624.4M217.4 624.4L215.5 624.1M208.9 616.5L211.0 616.7M213.8 611.5L214.5 611.7M209.3 611.4L209.3 611.4M214.5 611.7L213.4 615.7M213.4 615.7L211.5 616.6M211.4 623.8L215.5 624.1M221.3 621.1L220.6 621.9M221.3 621.1L213.8 615.6M220.6 621.9L220.0 622.2M213.8 615.6L213.4 615.7M223.5 627.7L220.6 621.9M216.7 628.3L217.4 624.4M219.1 598.7L219.1 597.2M219.1 598.7L219.5 599.9M219.5 599.9L222.3 599.6M219.1 597.2L223.5 590.7M222.3 599.6L225.6 597.7M225.6 597.7L224.3 590.9M223.5 590.7L224.3 590.9M217.0 595.4L219.1 597.2M213.8 596.2L214.1 597.8M214.1 597.8L219.1 598.7M222.3 589.8L223.5 590.7M214.5 611.7L217.7 611.1M213.8 615.6L217.6 614.2M217.7 611.1L217.6 614.2M221.3 621.1L221.6 620.8M217.6 614.2L221.6 620.8M243.0 605.2L245.1 604.1M243.0 605.2L240.3 601.2M240.3 601.2L241.2 598.6M246.0 603.5L243.3 598.3M246.0 603.5L245.1 604.1M243.3 598.3L241.2 598.6M248.1 608.6L245.1 604.1M241.7 608.0L243.0 605.2M237.8 605.6L238.4 601.7M237.8 605.6L240.2 607.5M240.2 607.5L241.7 608.0M238.4 601.7L240.3 601.2M247.0 595.5L243.3 598.3M247.2 603.1L246.0 603.5M239.3 593.1L241.1 591.9M239.3 593.1L240.4 597.7M247.1 595.4L243.7 592.6M240.4 597.7L241.2 598.6M241.1 591.9L243.7 592.6M231.6 586.3L232.6 587.2M231.6 586.3L231.4 584.3M232.6 587.2L238.8 586.7M238.8 586.7L239.2 581.2M239.2 581.2L238.4 580.9M238.4 580.9L231.4 584.3M224.7 590.8L224.3 590.9M224.7 590.8L231.6 586.3M224.7 581.4L231.3 584.0M231.4 584.3L231.3 584.0M228.2 571.9L228.5 573.8M232.2 571.6L229.6 574.5M229.6 574.5L228.5 573.8M235.2 642.5L238.6 632.8M242.1 627.5L241.2 627.6M238.6 632.8L241.2 627.6M236.2 615.7L236.3 615.9M242.3 618.2L240.0 618.4M236.3 615.9L240.0 618.4M214.1 597.8L213.7 598.5M219.5 599.9L218.7 602.1M218.7 602.1L214.1 600.9M214.1 600.9L213.9 600.5M213.7 598.5L213.9 600.5M190.9 598.7L191.6 598.6M211.1 608.5L209.9 604.4M209.9 604.4L191.6 598.6M208.3 590.9L201.0 595.3M213.7 598.5L209.4 598.7M201.0 595.3L209.4 598.7M201.0 595.3L191.6 598.6M213.9 600.5L210.5 599.7M209.4 598.7L210.5 599.7M213.7 607.6L215.8 606.5M217.7 611.1L219.8 607.6M219.8 607.6L218.9 606.5M218.9 606.5L217.3 606.4M215.8 606.5L217.3 606.4M241.1 588.3L246.0 588.6M241.1 588.3L240.8 587.6M240.8 587.6L242.7 585.3M242.7 585.3L250.3 584.3M246.0 588.6L250.5 585.4M250.3 584.3L250.5 585.4M241.1 591.9L241.1 588.3M243.7 592.6L246.0 588.6M239.3 593.1L235.0 592.9M235.0 592.9L232.6 587.2M238.8 586.7L240.8 587.6M240.7 581.0L239.2 581.2M240.7 581.0L242.7 585.3M250.7 581.2L250.3 584.3M240.8 581.0L240.7 581.0M253.6 590.8L250.5 585.4M236.6 576.2L231.4 578.4M236.6 576.2L237.1 575.2M235.4 572.9L230.2 575.6M235.4 572.9L237.1 575.2M231.4 578.4L230.7 577.4M230.2 575.6L230.7 577.4M238.4 580.9L236.6 576.2M231.3 584.0L231.4 578.4M241.3 573.9L237.1 575.2M234.3 570.3L235.4 572.9M229.6 574.5L230.2 575.6M223.3 580.0L225.7 578.1M225.7 578.1L230.7 577.4M227.7 574.0L226.2 575.5M227.7 574.0L223.8 572.8M226.2 575.5L223.1 575.2M223.8 572.8L223.1 575.2M225.7 578.1L226.2 575.5M228.5 573.8L227.7 574.0M221.3 566.4L223.8 572.8M220.3 579.0L223.1 575.2M240.9 627.3L231.7 626.6M240.9 627.3L239.8 625.1M239.8 625.1L234.3 622.0M234.3 622.0L230.3 624.6M230.3 624.6L230.5 625.9M230.5 625.9L231.3 626.5M231.3 626.5L231.7 626.6M238.6 632.8L231.7 626.6M241.2 627.6L240.9 627.3M240.0 618.4L239.8 625.1M236.3 615.9L234.3 622.0M227.9 628.6L230.5 625.9M225.0 619.5L221.6 620.8M225.0 619.5L230.3 624.6M234.6 641.2L231.3 626.5M222.3 599.6L224.9 602.8M225.6 597.7L227.2 598.8M227.2 598.8L224.9 602.8M230.1 599.1L234.1 603.7M230.1 599.1L232.4 596.6M233.2 596.3L232.4 596.6M233.2 596.3L235.1 598.3M235.1 598.3L236.2 601.2M236.2 601.2L234.1 603.7M224.7 590.8L232.4 596.6M227.2 598.8L229.5 599.4M229.5 599.4L230.1 599.1M235.0 592.9L233.2 596.3M240.4 597.7L235.1 598.3M238.4 601.7L236.2 601.2M237.8 605.6L233.8 605.2M233.8 605.2L234.1 603.7M212.2 602.2L211.2 603.9M212.2 602.2L213.1 601.8M213.1 601.8L214.1 603.3M214.1 603.3L211.4 604.0M211.2 603.9L211.4 604.0M209.9 604.4L211.2 603.9M210.5 599.7L212.2 602.2M214.1 600.9L213.1 601.8M218.9 606.5L218.7 602.1M217.3 606.4L214.1 603.3M215.8 606.5L211.4 604.0M228.3 606.0L225.4 607.1M228.3 606.0L232.4 606.8M223.9 608.5L226.8 616.0M223.9 608.5L225.4 607.1M233.9 614.3L233.5 609.3M233.9 614.3L226.8 616.0M233.5 609.3L232.4 606.8M229.5 599.4L228.3 606.0M224.9 602.8L225.4 607.1M233.8 605.2L232.4 606.8M219.8 607.6L223.9 608.5M225.0 619.5L226.8 616.0M235.7 615.1L233.9 614.3M240.2 607.5L233.5 609.3" stroke="#e0e0e0" stroke-opacity="0.5" stroke-width="0.8" fill="none"/>
<circle cx="238.0" cy="621.2" r="0.58" fill="#e0e0e0" fill-opacity="0.35"/>
<circle cx="245.7" cy="609.6" r="0.70" fill="#e0e0e0" fill-opacity="0.40"/>
<circle cx="252.6" cy="602.0" r="0.54" fill="#e0e0e0" fill-opacity="0.33"/>
<circle cx="235.9" cy="607.9" r="0.58" fill="#e0e0e0" fill-opacity="0.42"/>
<circle cx="236.0" cy="617.2" r="0.52" fill="#e0e0e0" fill-opacity="0.50"/>
<circle cx="237.7" cy="599.6" r="0.72" fill="#e0e0e0" fill-opacity="0.33"/>
<circle cx="259.2" cy="610.0" r="0.79" fill="#e0e0e0" fill-opacity="0.35"/>
<circle cx="236.5" cy="629.0" r="0.86" fill="#e0e0e0" fill-opacity="0.39"/>
<circle cx="265.9" cy="614.5" r="0.88" fill="#e0e0e0" fill-opacity="0.41"/>
<circle cx="254.7" cy="606.3" r="0.83" fill="#e0e0e0" fill-opacity="0.48"/>
<circle cx="247.4" cy="599.4" r="0.69" fill="#e0e0e0" fill-opacity="0.30"/>
<circle cx="241.9" cy="620.0" r="0.64" fill="#e0e0e0" fill-opacity="0.47"/>
<circle cx="252.0" cy="604.9" r="0.53" fill="#e0e0e0" fill-opacity="0.32"/>
<circle cx="248.1" cy="586.8" r="0.75" fill="#e0e0e0" fill-opacity="0.46"/>
<circle cx="256.9" cy="620.2" r="0.70" fill="#e0e0e0" fill-opacity="0.41"/>
<circle cx="239.5" cy="602.2" r="0.72" fill="#e0e0e0" fill-opacity="0.30"/>
<circle cx="228.8" cy="623.6" r="0.60" fill="#e0e0e0" fill-opacity="0.50"/>
<circle cx="254.0" cy="613.3" r="0.75" fill="#e0e0e0" fill-opacity="0.42"/>
<circle cx="239.0" cy="611.2" r="0.76" fill="#e0e0e0" fill-opacity="0.32"/>
<circle cx="243.9" cy="593.4" r="0.58" fill="#e0e0e0" fill-opacity="0.32"/>
<circle cx="243.4" cy="606.9" r="0.68" fill="#e0e0e0" fill-opacity="0.30"/>
<circle cx="272.2" cy="633.0" r="0.78" fill="#e0e0e0" fill-opacity="0.39"/>
<circle cx="238.1" cy="611.1" r="0.52" fill="#e0e0e0" fill-opacity="0.37"/>
<circle cx="249.1" cy="610.2" r="0.50" fill="#e0e0e0" fill-opacity="0.37"/>
<circle cx="228.9" cy="614.6" r="0.70" fill="#e0e0e0" fill-opacity="0.48"/>
<circle cx="235.8" cy="599.9" r="0.60" fill="#e0e0e0" fill-opacity="0.49"/>
<circle cx="230.1" cy="620.7" r="0.75" fill="#e0e0e0" fill-opacity="0.39"/>
<circle cx="246.0" cy="615.4" r="0.82" fill="#e0e0e0" fill-opacity="0.48"/>
<circle cx="240.7" cy="593.9" r="0.61" fill="#e0e0e0" fill-opacity="0.36"/>
<circle cx="243.3" cy="601.0" r="0.85" fill="#e0e0e0" fill-opacity="0.33"/>
<circle cx="261.4" cy="614.8" r="0.90" fill="#e0e0e0" fill-opacity="0.47"/>
<circle cx="241.9" cy="596.0" r="0.80" fill="#e0e0e0" fill-opacity="0.37"/>
<circle cx="236.9" cy="598.3" r="0.73" fill="#e0e0e0" fill-opacity="0.44"/>
<circle cx="249.0" cy="584.7" r="0.64" fill="#e0e0e0" fill-opacity="0.50"/>
<circle cx="242.9" cy="609.3" r="0.78" fill="#e0e0e0" fill-opacity="0.45"/>
<circle cx="221.2" cy="622.0" r="0.61" fill="#e0e0e0" fill-opacity="0.38"/>
<circle cx="241.2" cy="589.7" r="0.54" fill="#e0e0e0" fill-opacity="0.46"/>
<circle cx="248.3" cy="603.6" r="0.56" fill="#e0e0e0" fill-opacity="0.34"/>
<circle cx="245.0" cy="592.5" r="0.87" fill="#e0e0e0" fill-opacity="0.47"/>
<circle cx="233.9" cy="584.7" r="0.60" fill="#e0e0e0" fill-opacity="0.49"/>
<circle cx="241.7" cy="585.2" r="0.57" fill="#e0e0e0" fill-opacity="0.47"/>
<circle cx="246.7" cy="584.1" r="0.87" fill="#e0e0e0" fill-opacity="0.38"/>
<circle cx="222.0" cy="596.1" r="0.81" fill="#e0e0e0" fill-opacity="0.34"/>
<circle cx="248.8" cy="614.3" r="0.76" fill="#e0e0e0" fill-opacity="0.31"/>
<circle cx="223.9" cy="613.4" r="0.85" fill="#e0e0e0" fill-opacity="0.46"/>
<circle cx="237.1" cy="591.7" r="0.52" fill="#e0e0e0" fill-opacity="0.49"/>
<circle cx="229.5" cy="607.4" r="0.66" fill="#e0e0e0" fill-opacity="0.30"/>
<circle cx="240.9" cy="603.7" r="0.66" fill="#e0e0e0" fill-opacity="0.37"/>
<circle cx="236.6" cy="605.6" r="0.53" fill="#e0e0e0" fill-opacity="0.31"/>
<circle cx="233.8" cy="586.5" r="0.73" fill="#e0e0e0" fill-opacity="0.33"/>
<circle cx="260.3" cy="601.8" r="0.61" fill="#e0e0e0" fill-opacity="0.41"/>
<circle cx="254.8" cy="582.2" r="0.54" fill="#e0e0e0" fill-opacity="0.49"/>
<circle cx="257.2" cy="604.0" r="0.57" fill="#e0e0e0" fill-opacity="0.34"/>
<circle cx="245.7" cy="607.7" r="0.52" fill="#e0e0e0" fill-opacity="0.47"/>
<circle cx="259.9" cy="619.2" r="0.77" fill="#e0e0e0" fill-opacity="0.32"/>
<circle cx="234.4" cy="623.1" r="0.73" fill="#e0e0e0" fill-opacity="0.34"/>
<circle cx="231.2" cy="602.4" r="0.82" fill="#e0e0e0" fill-opacity="0.40"/>
<circle cx="232.8" cy="617.8" r="0.62" fill="#e0e0e0" fill-opacity="0.37"/>
<circle cx="255.0" cy="597.9" r="0.74" fill="#e0e0e0" fill-opacity="0.41"/>
<circle cx="247.0" cy="617.7" r="0.53" fill="#e0e0e0" fill-opacity="0.32"/>
</g>
</g>
<rect x="210.1" y="571.9" width="59.8" height="58.7" fill="url(#vtop)"/>
</g>
</svg></body></html>
